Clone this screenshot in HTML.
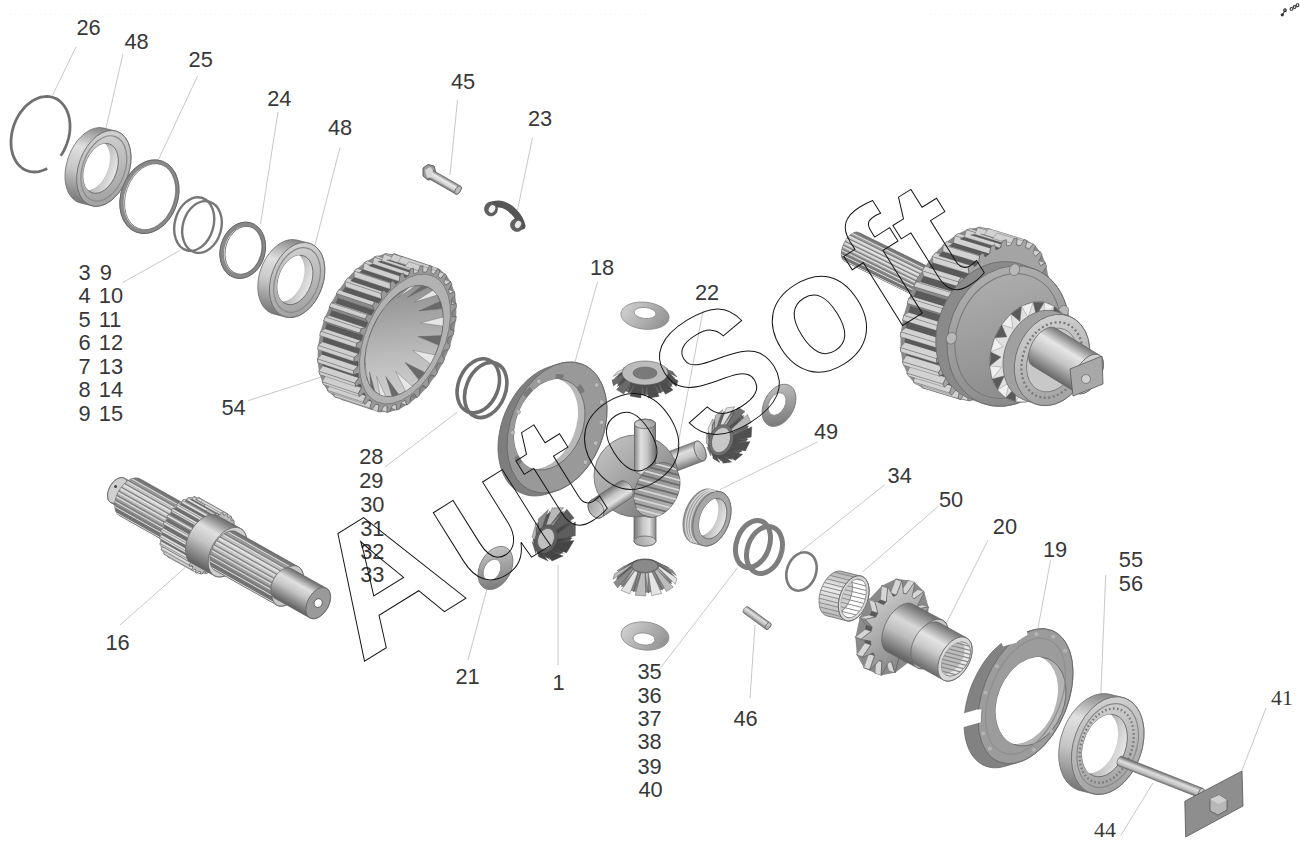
<!DOCTYPE html>
<html><head><meta charset="utf-8"><style>
html,body{margin:0;padding:0;background:#fff;width:1300px;height:851px;overflow:hidden}
svg{display:block}
text{font-family:"Liberation Sans",sans-serif}
</style></head><body>
<svg width="1300" height="851" viewBox="0 0 1300 851">
<defs><linearGradient id="g1" gradientUnits="userSpaceOnUse" x1="113.3" y1="130.3" x2="94.3" y2="206.5"><stop offset="0" stop-color="#858585"/><stop offset="0.3" stop-color="#e0e0e0"/><stop offset="0.6" stop-color="#c6c6c6"/><stop offset="1" stop-color="#767676"/></linearGradient><linearGradient id="g2" gradientUnits="userSpaceOnUse" x1="78.7" y1="129.1" x2="129.0" y2="207.7"><stop offset="0" stop-color="#d8d8d8"/><stop offset="1" stop-color="#9a9a9a"/></linearGradient><clipPath id="g3"><ellipse cx="100.8" cy="168.4" rx="16.1" ry="25.9" transform="rotate(20.0 100.8 168.4)"/></clipPath><linearGradient id="g4" gradientUnits="userSpaceOnUse" x1="84.7" y1="168.4" x2="116.9" y2="168.4"><stop offset="0" stop-color="#5a5a5a"/><stop offset="0.5" stop-color="#bdbdbd"/><stop offset="1" stop-color="#e8e8e8"/></linearGradient><linearGradient id="g5" gradientUnits="userSpaceOnUse" x1="306.5" y1="242.4" x2="287.7" y2="317.6"><stop offset="0" stop-color="#858585"/><stop offset="0.3" stop-color="#e0e0e0"/><stop offset="0.6" stop-color="#c6c6c6"/><stop offset="1" stop-color="#767676"/></linearGradient><linearGradient id="g6" gradientUnits="userSpaceOnUse" x1="271.3" y1="241.2" x2="323.0" y2="318.8"><stop offset="0" stop-color="#d8d8d8"/><stop offset="1" stop-color="#9a9a9a"/></linearGradient><clipPath id="g7"><ellipse cx="295.1" cy="280.0" rx="16.5" ry="25.6" transform="rotate(20.0 295.1 280.0)"/></clipPath><linearGradient id="g8" gradientUnits="userSpaceOnUse" x1="278.6" y1="280.0" x2="311.7" y2="280.0"><stop offset="0" stop-color="#5a5a5a"/><stop offset="0.5" stop-color="#bdbdbd"/><stop offset="1" stop-color="#e8e8e8"/></linearGradient><clipPath id="g9"><ellipse cx="404.0" cy="341.0" rx="34.1" ry="59.0" transform="rotate(24 404.0 341.0)"/></clipPath><linearGradient id="g10" gradientUnits="userSpaceOnUse" x1="363.4" y1="269.9" x2="444.6" y2="412.1"><stop offset="0" stop-color="#808080"/><stop offset="0.6" stop-color="#bdbdbd"/><stop offset="1" stop-color="#dadada"/></linearGradient><linearGradient id="g11" gradientUnits="userSpaceOnUse" x1="460.3" y1="186.0" x2="455.7" y2="194.0"><stop offset="0" stop-color="#777"/><stop offset="0.35" stop-color="#ececec"/><stop offset="0.7" stop-color="#d0d0d0"/><stop offset="1" stop-color="#666"/></linearGradient><clipPath id="g12"><ellipse cx="549.5" cy="424.5" rx="33.2" ry="47.2" transform="rotate(22 549.5 424.5)"/></clipPath><linearGradient id="g13" gradientUnits="userSpaceOnUse" x1="621.0" y1="302.0" x2="669.0" y2="330.0"><stop offset="0" stop-color="#d6d6d6"/><stop offset="1" stop-color="#8a8a8a"/></linearGradient><linearGradient id="g14" gradientUnits="userSpaceOnUse" x1="634.5" y1="424.0" x2="655.5" y2="424.0"><stop offset="0" stop-color="#858585"/><stop offset="0.3" stop-color="#e0e0e0"/><stop offset="0.6" stop-color="#c6c6c6"/><stop offset="1" stop-color="#767676"/></linearGradient><linearGradient id="g15" gradientUnits="userSpaceOnUse" x1="640.3" y1="413.5" x2="649.7" y2="434.5"><stop offset="0" stop-color="#d8d8d8"/><stop offset="1" stop-color="#9a9a9a"/></linearGradient><linearGradient id="g16" gradientUnits="userSpaceOnUse" x1="696.3" y1="441.2" x2="703.7" y2="460.8"><stop offset="0" stop-color="#858585"/><stop offset="0.3" stop-color="#e0e0e0"/><stop offset="0.6" stop-color="#c6c6c6"/><stop offset="1" stop-color="#767676"/></linearGradient><linearGradient id="g17" gradientUnits="userSpaceOnUse" x1="694.8" y1="440.5" x2="705.2" y2="461.5"><stop offset="0" stop-color="#d8d8d8"/><stop offset="1" stop-color="#9a9a9a"/></linearGradient><linearGradient id="g18" gradientUnits="userSpaceOnUse" x1="656.0" y1="541.0" x2="634.0" y2="541.0"><stop offset="0" stop-color="#858585"/><stop offset="0.3" stop-color="#e0e0e0"/><stop offset="0.6" stop-color="#c6c6c6"/><stop offset="1" stop-color="#767676"/></linearGradient><linearGradient id="g19" gradientUnits="userSpaceOnUse" x1="640.0" y1="530.0" x2="650.0" y2="552.0"><stop offset="0" stop-color="#d8d8d8"/><stop offset="1" stop-color="#9a9a9a"/></linearGradient><linearGradient id="g20" gradientUnits="userSpaceOnUse" x1="600.0" y1="440.0" x2="670.0" y2="515.0"><stop offset="0" stop-color="#c4c4c4"/><stop offset="0.5" stop-color="#a0a0a0"/><stop offset="1" stop-color="#6e6e6e"/></linearGradient><linearGradient id="g21" gradientUnits="userSpaceOnUse" x1="634.5" y1="424.0" x2="655.5" y2="424.0"><stop offset="0" stop-color="#858585"/><stop offset="0.3" stop-color="#e0e0e0"/><stop offset="0.6" stop-color="#c6c6c6"/><stop offset="1" stop-color="#767676"/></linearGradient><linearGradient id="g22" gradientUnits="userSpaceOnUse" x1="640.3" y1="413.5" x2="649.7" y2="434.5"><stop offset="0" stop-color="#d8d8d8"/><stop offset="1" stop-color="#9a9a9a"/></linearGradient><linearGradient id="g23" gradientUnits="userSpaceOnUse" x1="640.0" y1="462.0" x2="680.0" y2="520.0"><stop offset="0" stop-color="#8a8a8a"/><stop offset="1" stop-color="#b8b8b8"/></linearGradient><clipPath id="g24"><ellipse cx="657" cy="490" rx="21" ry="29" transform="rotate(28 657 490)"/></clipPath><linearGradient id="g25" gradientUnits="userSpaceOnUse" x1="601.5" y1="517.4" x2="590.5" y2="500.6"><stop offset="0" stop-color="#858585"/><stop offset="0.3" stop-color="#e0e0e0"/><stop offset="0.6" stop-color="#c6c6c6"/><stop offset="1" stop-color="#767676"/></linearGradient><linearGradient id="g26" gradientUnits="userSpaceOnUse" x1="589.0" y1="499.0" x2="603.0" y2="519.0"><stop offset="0" stop-color="#d8d8d8"/><stop offset="1" stop-color="#9a9a9a"/></linearGradient><linearGradient id="g27" gradientUnits="userSpaceOnUse" x1="762.0" y1="384.0" x2="796.0" y2="427.0"><stop offset="0" stop-color="#c8c8c8"/><stop offset="1" stop-color="#6e6e6e"/></linearGradient><linearGradient id="g28" gradientUnits="userSpaceOnUse" x1="478.0" y1="546.0" x2="513.0" y2="590.0"><stop offset="0" stop-color="#d0d0d0"/><stop offset="1" stop-color="#6e6e6e"/></linearGradient><linearGradient id="g29" gradientUnits="userSpaceOnUse" x1="621.0" y1="622.0" x2="669.0" y2="650.0"><stop offset="0" stop-color="#d6d6d6"/><stop offset="1" stop-color="#8a8a8a"/></linearGradient><clipPath id="g30"><ellipse cx="712.9" cy="518.7" rx="12.7" ry="21.0" transform="rotate(20.0 712.9 518.7)"/></clipPath><linearGradient id="g31" gradientUnits="userSpaceOnUse" x1="700.2" y1="518.7" x2="725.5" y2="518.7"><stop offset="0" stop-color="#5a5a5a"/><stop offset="0.5" stop-color="#bdbdbd"/><stop offset="1" stop-color="#e8e8e8"/></linearGradient><linearGradient id="g32" gradientUnits="userSpaceOnUse" x1="859.4" y1="575.6" x2="848.0" y2="621.2"><stop offset="0" stop-color="#b0b0b0"/><stop offset="0.4" stop-color="#ececec"/><stop offset="1" stop-color="#b8b8b8"/></linearGradient><linearGradient id="g33" gradientUnits="userSpaceOnUse" x1="839.9" y1="574.9" x2="867.6" y2="621.9"><stop offset="0" stop-color="#d8d8d8"/><stop offset="1" stop-color="#9a9a9a"/></linearGradient><clipPath id="g34"><polygon points="819.0,600.5 819.1,598.6 819.3,596.7 819.6,594.7 820.1,592.8 820.6,590.8 821.3,588.8 822.0,586.9 822.9,585.1 823.8,583.3 824.8,581.6 825.9,580.0 827.0,578.4 828.2,577.0 829.5,575.8 830.8,574.6 832.1,573.6 833.4,572.8 834.8,572.1 836.1,571.6 837.4,571.2 838.7,571.0 840.0,571.0 841.2,571.2 860.6,576.0 861.7,576.3 862.8,576.8 863.9,577.5 864.8,578.3 865.7,579.3 866.5,580.4 867.2,581.7 867.8,583.0 868.2,584.5 868.6,586.2 868.8,587.9 869.0,589.6 869.0,591.5 868.9,593.4 868.7,595.3 868.4,597.3 867.9,599.2 867.4,601.2 866.7,603.2 866.0,605.1 865.1,606.9 864.2,608.7 863.2,610.4 862.1,612.0 861.0,613.6 859.8,615.0 858.5,616.2 857.2,617.4 855.9,618.4 854.6,619.2 853.2,619.9 851.9,620.4 850.6,620.8 849.3,621.0 848.0,621.0 846.8,620.8 827.4,616.0 826.3,615.7 825.2,615.2 824.1,614.5 823.2,613.7 822.3,612.7 821.5,611.6 820.8,610.3 820.2,609.0 819.8,607.5 819.4,605.8 819.2,604.1 819.0,602.4"/></clipPath><clipPath id="g35"><ellipse cx="853.7" cy="598.4" rx="11.4" ry="20.2" transform="rotate(20 853.7 598.4)"/></clipPath><linearGradient id="g36" gradientUnits="userSpaceOnUse" x1="770.2" y1="622.9" x2="765.8" y2="629.1"><stop offset="0" stop-color="#858585"/><stop offset="0.3" stop-color="#e0e0e0"/><stop offset="0.6" stop-color="#c6c6c6"/><stop offset="1" stop-color="#767676"/></linearGradient><linearGradient id="g37" gradientUnits="userSpaceOnUse" x1="765.7" y1="622.2" x2="770.3" y2="629.8"><stop offset="0" stop-color="#d8d8d8"/><stop offset="1" stop-color="#9a9a9a"/></linearGradient><linearGradient id="g38" gradientUnits="userSpaceOnUse" x1="870.0" y1="590.0" x2="925.0" y2="665.0"><stop offset="0" stop-color="#d4d4d4"/><stop offset="1" stop-color="#7a7a7a"/></linearGradient><linearGradient id="g39" gradientUnits="userSpaceOnUse" x1="942.7" y1="620.2" x2="917.3" y2="667.8"><stop offset="0" stop-color="#6a6a6a"/><stop offset="0.35" stop-color="#d8d8d8"/><stop offset="0.6" stop-color="#bdbdbd"/><stop offset="1" stop-color="#5e5e5e"/></linearGradient><linearGradient id="g40" gradientUnits="userSpaceOnUse" x1="966.7" y1="638.0" x2="943.3" y2="680.0"><stop offset="0" stop-color="#707070"/><stop offset="0.35" stop-color="#e4e4e4"/><stop offset="0.6" stop-color="#c8c8c8"/><stop offset="1" stop-color="#6a6a6a"/></linearGradient><clipPath id="g41"><ellipse cx="956" cy="659" rx="12" ry="19" transform="rotate(34 956 659)"/></clipPath><clipPath id="g42"><ellipse cx="1030.8" cy="701.5" rx="33.1" ry="46.1" transform="rotate(22 1030.8 701.5)"/></clipPath><linearGradient id="g43" gradientUnits="userSpaceOnUse" x1="1119.9" y1="696.6" x2="1095.4" y2="794.5"><stop offset="0" stop-color="#858585"/><stop offset="0.3" stop-color="#e0e0e0"/><stop offset="0.6" stop-color="#c6c6c6"/><stop offset="1" stop-color="#767676"/></linearGradient><linearGradient id="g44" gradientUnits="userSpaceOnUse" x1="1073.6" y1="695.1" x2="1141.7" y2="796.0"><stop offset="0" stop-color="#d8d8d8"/><stop offset="1" stop-color="#9a9a9a"/></linearGradient><clipPath id="g45"><ellipse cx="1104.7" cy="745.6" rx="21.1" ry="32.3" transform="rotate(20.0 1104.7 745.6)"/></clipPath><linearGradient id="g46" gradientUnits="userSpaceOnUse" x1="1083.6" y1="745.6" x2="1125.8" y2="745.6"><stop offset="0" stop-color="#5a5a5a"/><stop offset="0.5" stop-color="#bdbdbd"/><stop offset="1" stop-color="#e8e8e8"/></linearGradient><linearGradient id="g47" gradientUnits="userSpaceOnUse" x1="1202.8" y1="788.3" x2="1199.2" y2="797.7"><stop offset="0" stop-color="#777"/><stop offset="0.35" stop-color="#dedede"/><stop offset="0.7" stop-color="#c0c0c0"/><stop offset="1" stop-color="#666"/></linearGradient><linearGradient id="g48" gradientUnits="userSpaceOnUse" x1="1198.5" y1="788.0" x2="1203.5" y2="798.0"><stop offset="0" stop-color="#d8d8d8"/><stop offset="1" stop-color="#9a9a9a"/></linearGradient><linearGradient id="g49" gradientUnits="userSpaceOnUse" x1="143.6" y1="489.0" x2="129.9" y2="513.4"><stop offset="0" stop-color="#858585"/><stop offset="0.3" stop-color="#e0e0e0"/><stop offset="0.6" stop-color="#c6c6c6"/><stop offset="1" stop-color="#767676"/></linearGradient><linearGradient id="g50" gradientUnits="userSpaceOnUse" x1="202.0" y1="513.7" x2="181.4" y2="550.4"><stop offset="0" stop-color="#6a6a6a"/><stop offset="0.3" stop-color="#d6d6d6"/><stop offset="0.55" stop-color="#bcbcbc"/><stop offset="1" stop-color="#5e5e5e"/></linearGradient><clipPath id="g51"><polygon points="114.8,505.8 114.8,504.3 114.9,502.7 115.2,501.1 115.5,499.4 116.0,497.7 116.5,496.0 117.2,494.4 118.0,492.7 118.8,491.1 119.8,489.5 120.8,488.0 121.9,486.6 123.0,485.2 124.2,483.9 125.4,482.8 126.7,481.7 128.0,480.8 129.3,479.9 130.6,479.3 131.9,478.7 133.2,478.3 134.5,478.1 135.7,477.9 136.9,478.0 138.0,478.2 139.1,478.5 140.1,478.9 202.0,513.7 202.9,514.4 203.8,515.1 204.5,516.0 205.1,517.0 205.7,518.1 206.1,519.3 206.4,520.6 206.7,522.0 206.8,523.5 206.8,525.0 206.6,526.6 206.4,528.2 206.0,529.9 205.6,531.6 205.0,533.3 204.3,535.0 203.6,536.6 202.7,538.2 201.8,539.8 200.8,541.3 199.7,542.8 198.5,544.1 197.3,545.4 196.1,546.5 194.8,547.6 193.5,548.5 192.2,549.4 190.9,550.0 189.6,550.6 188.3,551.0 187.0,551.2 185.8,551.4 184.6,551.3 183.5,551.1 182.4,550.8 181.4,550.4 119.5,515.6 118.6,515.0 117.8,514.2 117.0,513.4 116.4,512.4 115.8,511.2 115.4,510.0 115.1,508.7 114.9,507.3"/></clipPath><linearGradient id="g52" gradientUnits="userSpaceOnUse" x1="240.7" y1="528.6" x2="214.2" y2="575.7"><stop offset="0" stop-color="#6a6a6a"/><stop offset="0.3" stop-color="#e0e0e0"/><stop offset="0.55" stop-color="#c4c4c4"/><stop offset="1" stop-color="#5e5e5e"/></linearGradient><linearGradient id="g53" gradientUnits="userSpaceOnUse" x1="298.4" y1="566.8" x2="276.9" y2="605.1"><stop offset="0" stop-color="#6a6a6a"/><stop offset="0.3" stop-color="#d6d6d6"/><stop offset="0.55" stop-color="#bcbcbc"/><stop offset="1" stop-color="#5e5e5e"/></linearGradient><clipPath id="g54"><polygon points="210.0,560.1 210.0,558.5 210.1,556.9 210.4,555.1 210.7,553.4 211.2,551.6 211.8,549.9 212.5,548.1 213.3,546.4 214.2,544.7 215.2,543.0 216.3,541.5 217.4,540.0 218.6,538.5 219.8,537.2 221.2,536.0 222.5,534.9 223.8,533.9 225.2,533.0 226.6,532.3 228.0,531.7 229.3,531.3 230.6,531.0 231.9,530.9 233.2,531.0 234.3,531.1 235.5,531.5 236.5,532.0 298.4,566.8 299.4,567.4 300.2,568.2 301.0,569.1 301.7,570.1 302.3,571.3 302.7,572.6 303.1,574.0 303.3,575.4 303.4,577.0 303.4,578.6 303.2,580.2 303.0,582.0 302.6,583.7 302.1,585.5 301.5,587.2 300.8,589.0 300.0,590.7 299.1,592.4 298.2,594.1 297.1,595.6 296.0,597.2 294.8,598.6 293.5,599.9 292.2,601.1 290.9,602.2 289.5,603.2 288.2,604.1 286.8,604.8 285.4,605.4 284.1,605.8 282.7,606.1 281.4,606.2 280.2,606.1 279.0,606.0 277.9,605.6 276.9,605.1 214.9,570.3 214.0,569.7 213.1,568.9 212.3,568.0 211.7,567.0 211.1,565.8 210.6,564.5 210.3,563.2 210.1,561.7"/></clipPath><linearGradient id="g55" gradientUnits="userSpaceOnUse" x1="326.5" y1="588.3" x2="309.8" y2="617.9"><stop offset="0" stop-color="#6a6a6a"/><stop offset="0.3" stop-color="#e0e0e0"/><stop offset="0.55" stop-color="#c4c4c4"/><stop offset="1" stop-color="#5e5e5e"/></linearGradient><linearGradient id="g56" gradientUnits="userSpaceOnUse" x1="932.1" y1="268.7" x2="917.9" y2="297.3"><stop offset="0" stop-color="#6a6a6a"/><stop offset="0.3" stop-color="#d6d6d6"/><stop offset="0.55" stop-color="#bcbcbc"/><stop offset="1" stop-color="#5e5e5e"/></linearGradient><clipPath id="g57"><polygon points="841.4,253.2 841.5,252.0 841.6,250.8 841.9,249.5 842.2,248.2 842.5,246.9 843.0,245.7 843.5,244.4 844.1,243.1 844.8,241.9 845.5,240.7 846.2,239.5 847.0,238.4 847.8,237.4 848.7,236.4 849.6,235.6 850.5,234.8 851.4,234.1 852.4,233.5 853.3,233.0 854.2,232.6 855.1,232.3 856.0,232.2 856.8,232.1 857.6,232.2 858.4,232.4 859.1,232.7 932.1,268.6 932.7,269.0 933.3,269.5 933.9,270.1 934.4,270.9 934.8,271.6 935.1,272.5 935.3,273.5 935.5,274.5 935.6,275.6 935.6,276.8 935.5,278.0 935.4,279.2 935.1,280.5 934.8,281.8 934.5,283.1 934.0,284.3 933.5,285.6 932.9,286.9 932.2,288.1 931.5,289.3 930.8,290.5 930.0,291.6 929.2,292.6 928.3,293.6 927.4,294.4 926.5,295.2 925.6,295.9 924.6,296.5 923.7,297.0 922.8,297.4 921.9,297.6 921.0,297.8 920.2,297.9 919.4,297.8 918.6,297.6 917.9,297.4 844.9,261.4 844.3,261.0 843.7,260.5 843.1,259.9 842.6,259.1 842.2,258.4 841.9,257.5 841.7,256.5 841.5,255.5 841.4,254.4"/></clipPath><linearGradient id="g58" gradientUnits="userSpaceOnUse" x1="950.0" y1="265.0" x2="1066.0" y2="407.0"><stop offset="0" stop-color="#b4b4b4"/><stop offset="1" stop-color="#848484"/></linearGradient><linearGradient id="g59" gradientUnits="userSpaceOnUse" x1="1016.0" y1="313.0" x2="1088.0" y2="407.0"><stop offset="0" stop-color="#d8d8d8"/><stop offset="1" stop-color="#9a9a9a"/></linearGradient><linearGradient id="g60" gradientUnits="userSpaceOnUse" x1="1099.5" y1="355.2" x2="1076.5" y2="392.8"><stop offset="0" stop-color="#777"/><stop offset="0.3" stop-color="#e6e6e6"/><stop offset="0.6" stop-color="#c4c4c4"/><stop offset="1" stop-color="#666"/></linearGradient></defs>
<rect width="1300" height="851" fill="#fff"/>
<line x1="76.0" y1="47.0" x2="52.4" y2="95.5" stroke="#bababa" stroke-width="0.8"/>
<line x1="123.0" y1="53.7" x2="106.0" y2="128.0" stroke="#bababa" stroke-width="0.8"/>
<line x1="197.6" y1="76.0" x2="158.4" y2="159.7" stroke="#bababa" stroke-width="0.8"/>
<line x1="278.0" y1="112.0" x2="260.5" y2="224.0" stroke="#bababa" stroke-width="0.8"/>
<line x1="340.0" y1="147.5" x2="315.0" y2="245.0" stroke="#bababa" stroke-width="0.8"/>
<line x1="457.5" y1="100.0" x2="450.0" y2="175.0" stroke="#bababa" stroke-width="0.8"/>
<line x1="532.5" y1="137.5" x2="517.5" y2="210.0" stroke="#bababa" stroke-width="0.8"/>
<line x1="122.6" y1="282.6" x2="180.4" y2="250.2" stroke="#bababa" stroke-width="0.8"/>
<line x1="248.0" y1="400.7" x2="321.4" y2="377.0" stroke="#bababa" stroke-width="0.8"/>
<line x1="597.5" y1="282.0" x2="575.0" y2="362.0" stroke="#bababa" stroke-width="0.8"/>
<line x1="703.0" y1="310.6" x2="677.5" y2="447.0" stroke="#bababa" stroke-width="0.8"/>
<line x1="385.0" y1="467.0" x2="457.5" y2="412.0" stroke="#bababa" stroke-width="0.8"/>
<line x1="817.5" y1="442.0" x2="720.0" y2="489.5" stroke="#bababa" stroke-width="0.8"/>
<line x1="885.0" y1="484.5" x2="800.0" y2="552.0" stroke="#bababa" stroke-width="0.8"/>
<line x1="937.5" y1="507.0" x2="862.5" y2="572.0" stroke="#bababa" stroke-width="0.8"/>
<line x1="468.0" y1="660.0" x2="488.0" y2="585.0" stroke="#bababa" stroke-width="0.8"/>
<line x1="558.0" y1="665.0" x2="558.0" y2="565.0" stroke="#bababa" stroke-width="0.8"/>
<line x1="120.0" y1="625.0" x2="185.0" y2="567.7" stroke="#bababa" stroke-width="0.8"/>
<line x1="655.0" y1="675.0" x2="737.6" y2="567.7" stroke="#bababa" stroke-width="0.8"/>
<line x1="750.0" y1="698.0" x2="755.0" y2="625.0" stroke="#bababa" stroke-width="0.8"/>
<line x1="988.0" y1="540.0" x2="945.5" y2="625.0" stroke="#bababa" stroke-width="0.8"/>
<line x1="1050.6" y1="560.0" x2="1038.0" y2="628.0" stroke="#bababa" stroke-width="0.8"/>
<line x1="1105.7" y1="575.0" x2="1100.7" y2="698.0" stroke="#bababa" stroke-width="0.8"/>
<line x1="1266.0" y1="708.0" x2="1241.0" y2="773.0" stroke="#bababa" stroke-width="0.8"/>
<line x1="1120.7" y1="835.6" x2="1153.0" y2="783.0" stroke="#bababa" stroke-width="0.8"/>
<line x1="5" y1="14.5" x2="650" y2="14.5" stroke="#efefef" stroke-width="1" stroke-dasharray="1 4"/>
<line x1="930" y1="14.5" x2="1285" y2="14.5" stroke="#efefef" stroke-width="1" stroke-dasharray="1 4"/>
<polyline points="47.2,168.4 45.2,169.5 43.1,170.3 40.9,171.0 38.8,171.6 36.7,171.9 34.6,172.0 32.5,171.9 30.5,171.7 28.5,171.2 26.6,170.5 24.8,169.7 23.0,168.7 21.4,167.5 19.8,166.1 18.4,164.6 17.0,162.9 15.8,161.0 14.7,159.0 13.7,156.9 12.9,154.7 12.2,152.4 11.7,149.9 11.3,147.4 11.1,144.8 11.0,142.2 11.1,139.5 11.3,136.8 11.7,134.1 12.2,131.4 12.9,128.7 13.7,126.0 14.6,123.4 15.7,120.8 16.9,118.3 18.3,115.9 19.7,113.6 21.3,111.4 23.0,109.3 24.7,107.3 26.5,105.5 28.5,103.8 30.4,102.3 32.4,100.9 34.5,99.7 36.6,98.7 38.7,97.9 40.8,97.2 43.0,96.8 45.1,96.6 47.1,96.5 49.2,96.6 51.2,97.0 53.2,97.5 55.0,98.2 56.8,99.1 58.6,100.2 60.2,101.5 61.7,102.9 63.1,104.5 64.4,106.3 65.6,108.2 66.7,110.2 67.6,112.4 68.4,114.6 69.0,117.0 69.5,119.5 69.8,122.0 70.0,124.6 70.0,127.3 69.9,130.0 69.6,132.7 69.2,135.4 68.6,138.1 67.8,140.8 67.0,143.4 66.0,146.0 64.8,148.6 63.6,151.1 62.2,153.5 60.7,155.7" fill="none" stroke="#707070" stroke-width="2.8"/>
<polygon points="65.0,176.5 65.1,173.3 65.4,170.0 65.9,166.8 66.6,163.4 67.5,160.2 68.5,156.9 69.8,153.7 71.2,150.6 72.8,147.6 74.6,144.8 76.4,142.1 78.4,139.6 80.5,137.3 82.7,135.2 85.0,133.3 87.3,131.7 89.6,130.3 92.0,129.2 94.4,128.4 96.7,127.9 99.0,127.6 101.3,127.7 103.5,128.0 115.2,130.9 117.3,131.5 119.3,132.4 121.2,133.6 122.9,135.0 124.5,136.7 126.0,138.6 127.3,140.7 128.4,143.1 129.3,145.7 130.0,148.4 130.6,151.3 130.9,154.3 131.0,157.4 130.9,160.6 130.6,163.9 130.1,167.2 129.4,170.5 128.5,173.8 127.5,177.0 126.2,180.2 124.8,183.3 123.2,186.3 121.4,189.1 119.6,191.8 117.6,194.3 115.5,196.6 113.3,198.7 111.0,200.6 108.7,202.2 106.4,203.6 104.0,204.7 101.6,205.5 99.3,206.0 97.0,206.3 94.7,206.2 92.5,205.9 80.8,203.0 78.7,202.4 76.7,201.5 74.8,200.3 73.1,198.9 71.5,197.2 70.0,195.3 68.7,193.2 67.6,190.8 66.7,188.2 66.0,185.5 65.4,182.6 65.1,179.6" fill="url(#g1)" stroke="#6a6a6a" stroke-width="0.8"/>
<ellipse cx="103.8" cy="168.4" rx="25.1" ry="39.3" transform="rotate(20.0 103.8 168.4)" fill="url(#g2)" stroke="#6a6a6a" stroke-width="0.8" />
<ellipse cx="103.8" cy="168.4" rx="21.1" ry="33.8" transform="rotate(20.0 103.8 168.4)" fill="none" stroke="#8a8a8a" stroke-width="1.2" />
<ellipse cx="100.8" cy="168.4" rx="16.1" ry="25.9" transform="rotate(20.0 100.8 168.4)" fill="url(#g4)" stroke="#666" stroke-width="0.8" />
<g clip-path="url(#g3)"><ellipse cx="92.4" cy="165.3" rx="16.1" ry="25.9" transform="rotate(20.0 92.4 165.3)" fill="#fff"/></g>
<ellipse cx="149.4" cy="196.7" rx="26.6" ry="36.0" transform="rotate(20.0 149.4 196.7)" fill="none" stroke="#8a8a8a" stroke-width="4.2" />
<ellipse cx="149.4" cy="196.7" rx="28.4" ry="37.8" transform="rotate(20.0 149.4 196.7)" fill="none" stroke="#666" stroke-width="0.9" />
<ellipse cx="150.4" cy="196.7" rx="24.6" ry="34.0" transform="rotate(20.0 150.4 196.7)" fill="none" stroke="#777" stroke-width="0.8" />
<ellipse cx="194.2" cy="224.0" rx="19.3" ry="27.3" transform="rotate(16.0 194.2 224.0)" fill="none" stroke="#777" stroke-width="2.4" />
<ellipse cx="202.0" cy="227.0" rx="19.2" ry="26.3" transform="rotate(16.0 202.0 227.0)" fill="none" stroke="#777" stroke-width="2.4" />
<ellipse cx="242.7" cy="250.3" rx="20.4" ry="26.6" transform="rotate(16.0 242.7 250.3)" fill="none" stroke="#888" stroke-width="4.4" />
<ellipse cx="242.7" cy="250.3" rx="22.4" ry="28.6" transform="rotate(16.0 242.7 250.3)" fill="none" stroke="#666" stroke-width="0.9" />
<ellipse cx="243.7" cy="250.3" rx="18.2" ry="24.4" transform="rotate(16.0 243.7 250.3)" fill="none" stroke="#707070" stroke-width="0.9" />
<polygon points="257.8,287.7 257.9,284.5 258.1,281.2 258.6,278.0 259.2,274.7 260.1,271.5 261.2,268.3 262.4,265.1 263.9,262.1 265.4,259.1 267.2,256.3 269.1,253.7 271.1,251.2 273.2,248.9 275.4,246.9 277.7,245.1 280.0,243.5 282.4,242.2 284.8,241.1 287.2,240.3 289.6,239.8 292.0,239.6 294.3,239.7 296.6,240.0 308.2,242.9 310.4,243.6 312.4,244.5 314.4,245.7 316.2,247.1 317.9,248.8 319.4,250.7 320.8,252.9 321.9,255.2 322.9,257.8 323.7,260.5 324.3,263.4 324.6,266.3 324.8,269.4 324.7,272.6 324.5,275.9 324.0,279.1 323.4,282.4 322.5,285.6 321.4,288.8 320.2,292.0 318.7,295.0 317.1,298.0 315.4,300.8 313.5,303.4 311.5,305.9 309.4,308.1 307.2,310.2 304.9,312.0 302.6,313.6 300.2,314.9 297.8,316.0 295.4,316.8 293.0,317.3 290.6,317.5 288.3,317.4 286.0,317.1 274.4,314.2 272.2,313.5 270.1,312.6 268.2,311.4 266.4,310.0 264.7,308.3 263.2,306.4 261.9,304.2 260.7,301.9 259.7,299.3 258.9,296.6 258.3,293.8 258.0,290.8" fill="url(#g5)" stroke="#6a6a6a" stroke-width="0.8"/>
<ellipse cx="297.1" cy="280.0" rx="25.9" ry="38.8" transform="rotate(20.0 297.1 280.0)" fill="url(#g6)" stroke="#6a6a6a" stroke-width="0.8" />
<ellipse cx="297.1" cy="280.0" rx="21.7" ry="33.4" transform="rotate(20.0 297.1 280.0)" fill="none" stroke="#8a8a8a" stroke-width="1.2" />
<ellipse cx="295.1" cy="280.0" rx="16.5" ry="25.6" transform="rotate(20.0 295.1 280.0)" fill="url(#g8)" stroke="#666" stroke-width="0.8" />
<g clip-path="url(#g7)"><ellipse cx="286.7" cy="276.9" rx="16.5" ry="25.6" transform="rotate(20.0 286.7 276.9)" fill="#fff"/></g>
<polygon points="406.1,343.5 408.6,347.2 406.6,351.3 402.4,351.0 399.7,355.8 401.5,360.5 399.1,364.3 395.3,362.8 392.2,367.1 393.0,372.6 390.3,375.9 387.2,373.1 383.7,376.8 383.7,382.9 380.8,385.6 378.4,381.7 374.8,384.6 373.8,391.1 370.8,393.1 369.2,388.2 365.5,390.2 363.7,396.9 360.7,398.0 360.1,392.3 356.5,393.3 353.8,399.9 351.0,400.3 351.2,394.0 347.9,393.9 344.5,400.1 341.9,399.6 343.1,393.0 340.1,391.9 336.2,397.5 333.9,396.2 335.9,389.5 333.4,387.5 329.1,392.3 327.2,390.2 330.1,383.7 328.1,380.7 323.5,384.5 322.2,381.7 325.7,375.6 324.4,371.8 319.7,374.5 318.9,371.1 322.9,365.7 322.4,361.3 317.8,362.6 317.6,358.8 322.0,354.2 322.1,349.4 317.8,349.4 318.2,345.3 322.9,341.8 323.7,336.6 319.8,335.4 320.8,331.1 325.5,328.7 327.0,323.5 323.7,321.0 325.2,316.7 329.8,315.6 331.9,310.5 329.4,306.8 331.4,302.7 335.6,303.0 338.3,298.2 336.5,293.5 338.9,289.7 342.7,291.2 345.8,286.9 345.0,281.4 347.7,278.1 350.8,280.9 354.3,277.2 354.3,271.1 357.2,268.4 359.6,272.3 363.2,269.4 364.2,262.9 367.2,260.9 368.8,265.8 372.5,263.8 374.3,257.1 377.3,256.0 377.9,261.7 381.5,260.7 384.2,254.1 387.0,253.7 386.8,260.0 390.1,260.1 393.5,253.9 396.1,254.4 394.9,261.0 397.9,262.1 401.8,256.5 404.1,257.8 402.1,264.5 404.6,266.5 408.9,261.7 410.8,263.8 407.9,270.3 409.9,273.3 414.5,269.5 415.8,272.3 412.3,278.4 413.6,282.2 418.3,279.5 419.1,282.9 415.1,288.3 415.6,292.7 420.2,291.4 420.4,295.2 416.0,299.8 415.9,304.6 420.2,304.6 419.8,308.7 415.1,312.2 414.3,317.4 418.2,318.6 417.2,322.9 412.5,325.3 411.0,330.5 414.3,333.0 412.8,337.3 408.2,338.4" fill="#5a5a5a" stroke="#555" stroke-width="0.6"/>
<polygon points="317.6,358.8 317.8,349.4 318.2,345.3 319.8,335.4 320.8,331.1 323.7,321.0 325.2,316.7 329.4,306.9 331.4,302.7 336.5,293.5 338.9,289.7 345.0,281.4 347.7,278.1 354.3,271.1 357.2,268.4 364.2,262.9 367.2,260.9 374.3,257.1 377.3,255.9 384.2,254.1 387.0,253.8 393.5,253.9 396.1,254.4 432.1,266.4 437.8,268.5 440.1,269.8 444.9,273.7 446.8,275.8 450.5,281.5 451.8,284.3 454.3,291.5 455.1,294.9 456.2,303.4 456.4,307.2 456.2,316.6 455.8,320.7 454.2,330.6 453.2,334.9 450.3,345.0 448.8,349.3 444.6,359.1 442.6,363.3 437.5,372.5 435.1,376.3 429.0,384.6 426.3,387.9 419.7,394.9 416.8,397.6 409.8,403.1 406.8,405.1 399.7,408.9 396.7,410.1 389.8,411.9 387.0,412.2 380.5,412.1 377.9,411.6 341.9,399.6 336.2,397.5 333.9,396.2 329.1,392.3 327.2,390.2 323.5,384.5 322.2,381.7 319.7,374.5 318.9,371.1 317.8,362.6" fill="#8a8a8a" stroke="none"/>
<polygon points="435.1,376.3 431.3,374.8 395.3,362.8 399.1,364.3" fill="#5a5a5a" stroke="#555" stroke-width="0.35"/><polygon points="426.3,387.9 423.2,385.1 387.2,373.1 390.3,375.9" fill="#8a8a8a" stroke="#555" stroke-width="0.35"/><polygon points="416.8,397.6 414.4,393.7 378.4,381.7 380.8,385.6" fill="#8a8a8a" stroke="#555" stroke-width="0.35"/><polygon points="406.8,405.1 405.2,400.2 369.2,388.2 370.8,393.1" fill="#cfcfcf" stroke="#555" stroke-width="0.35"/><polygon points="396.7,410.0 396.1,404.3 360.1,392.3 360.7,398.0" fill="#cfcfcf" stroke="#555" stroke-width="0.35"/><polygon points="387.0,412.3 387.2,406.0 351.2,394.0 351.0,400.3" fill="#cfcfcf" stroke="#555" stroke-width="0.35"/><polygon points="377.9,411.6 379.1,405.0 343.1,393.0 341.9,399.6" fill="#cfcfcf" stroke="#555" stroke-width="0.35"/><polygon points="379.1,405.0 376.1,403.9 340.1,391.9 343.1,393.0" fill="#5a5a5a" stroke="#555" stroke-width="0.35"/><polygon points="372.2,409.5 369.9,408.2 333.9,396.2 336.2,397.5" fill="#cfcfcf" stroke="#555" stroke-width="0.35"/><polygon points="369.9,408.2 371.9,401.5 335.9,389.5 333.9,396.2" fill="#cfcfcf" stroke="#555" stroke-width="0.35"/><polygon points="371.9,401.5 369.4,399.5 333.4,387.5 335.9,389.5" fill="#5a5a5a" stroke="#555" stroke-width="0.35"/><polygon points="365.1,404.3 363.2,402.2 327.2,390.2 329.1,392.3" fill="#cfcfcf" stroke="#555" stroke-width="0.35"/><polygon points="363.2,402.2 366.1,395.7 330.1,383.7 327.2,390.2" fill="#cfcfcf" stroke="#555" stroke-width="0.35"/><polygon points="366.1,395.7 364.1,392.7 328.1,380.7 330.1,383.7" fill="#5a5a5a" stroke="#555" stroke-width="0.35"/><polygon points="359.5,396.5 358.2,393.7 322.2,381.7 323.5,384.5" fill="#cfcfcf" stroke="#555" stroke-width="0.35"/><polygon points="358.2,393.7 361.7,387.6 325.7,375.6 322.2,381.7" fill="#cfcfcf" stroke="#555" stroke-width="0.35"/><polygon points="361.7,387.6 360.4,383.8 324.4,371.8 325.7,375.6" fill="#5a5a5a" stroke="#555" stroke-width="0.35"/><polygon points="355.7,386.5 354.9,383.1 318.9,371.1 319.7,374.5" fill="#cfcfcf" stroke="#555" stroke-width="0.35"/><polygon points="354.9,383.1 358.9,377.7 322.9,365.7 318.9,371.1" fill="#cfcfcf" stroke="#555" stroke-width="0.35"/><polygon points="358.9,377.7 358.4,373.3 322.4,361.3 322.9,365.7" fill="#5a5a5a" stroke="#555" stroke-width="0.35"/><polygon points="353.8,374.6 353.6,370.8 317.6,358.8 317.8,362.6" fill="#cfcfcf" stroke="#555" stroke-width="0.35"/><polygon points="353.6,370.8 358.0,366.2 322.0,354.2 317.6,358.8" fill="#cfcfcf" stroke="#555" stroke-width="0.35"/><polygon points="358.0,366.2 358.1,361.4 322.1,349.4 322.0,354.2" fill="#5a5a5a" stroke="#555" stroke-width="0.35"/><polygon points="353.8,361.4 354.2,357.3 318.2,345.3 317.8,349.4" fill="#cfcfcf" stroke="#555" stroke-width="0.35"/><polygon points="354.2,357.3 358.9,353.8 322.9,341.8 318.2,345.3" fill="#cfcfcf" stroke="#555" stroke-width="0.35"/><polygon points="358.9,353.8 359.7,348.6 323.7,336.6 322.9,341.8" fill="#5a5a5a" stroke="#555" stroke-width="0.35"/><polygon points="355.8,347.4 356.8,343.1 320.8,331.1 319.8,335.4" fill="#cfcfcf" stroke="#555" stroke-width="0.35"/><polygon points="356.8,343.1 361.5,340.7 325.5,328.7 320.8,331.1" fill="#cfcfcf" stroke="#555" stroke-width="0.35"/><polygon points="361.5,340.7 363.0,335.5 327.0,323.5 325.5,328.7" fill="#5a5a5a" stroke="#555" stroke-width="0.35"/><polygon points="363.0,335.5 359.7,333.0 323.7,321.0 327.0,323.5" fill="#8a8a8a" stroke="#555" stroke-width="0.35"/><polygon points="359.7,333.0 361.2,328.7 325.2,316.7 323.7,321.0" fill="#cfcfcf" stroke="#555" stroke-width="0.35"/><polygon points="361.2,328.7 365.8,327.6 329.8,315.6 325.2,316.7" fill="#cfcfcf" stroke="#555" stroke-width="0.35"/><polygon points="365.8,327.6 367.9,322.5 331.9,310.5 329.8,315.6" fill="#5a5a5a" stroke="#555" stroke-width="0.35"/><polygon points="367.9,322.5 365.4,318.8 329.4,306.8 331.9,310.5" fill="#8a8a8a" stroke="#555" stroke-width="0.35"/><polygon points="365.4,318.8 367.4,314.7 331.4,302.7 329.4,306.8" fill="#cfcfcf" stroke="#555" stroke-width="0.35"/><polygon points="367.4,314.7 371.6,315.0 335.6,303.0 331.4,302.7" fill="#cfcfcf" stroke="#555" stroke-width="0.35"/><polygon points="371.6,315.0 374.3,310.2 338.3,298.2 335.6,303.0" fill="#5a5a5a" stroke="#555" stroke-width="0.35"/><polygon points="374.3,310.2 372.5,305.5 336.5,293.5 338.3,298.2" fill="#8a8a8a" stroke="#555" stroke-width="0.35"/><polygon points="372.5,305.5 374.9,301.7 338.9,289.7 336.5,293.5" fill="#cfcfcf" stroke="#555" stroke-width="0.35"/><polygon points="378.7,303.2 381.8,298.9 345.8,286.9 342.7,291.2" fill="#5a5a5a" stroke="#555" stroke-width="0.35"/><polygon points="381.8,298.9 381.0,293.4 345.0,281.4 345.8,286.9" fill="#cfcfcf" stroke="#555" stroke-width="0.35"/><polygon points="381.0,293.4 383.7,290.1 347.7,278.1 345.0,281.4" fill="#cfcfcf" stroke="#555" stroke-width="0.35"/><polygon points="386.8,292.9 390.3,289.2 354.3,277.2 350.8,280.9" fill="#5a5a5a" stroke="#555" stroke-width="0.35"/><polygon points="390.3,289.2 390.3,283.1 354.3,271.1 354.3,277.2" fill="#cfcfcf" stroke="#555" stroke-width="0.35"/><polygon points="390.3,283.1 393.2,280.4 357.2,268.4 354.3,271.1" fill="#cfcfcf" stroke="#555" stroke-width="0.35"/><polygon points="395.6,284.3 399.2,281.4 363.2,269.4 359.6,272.3" fill="#5a5a5a" stroke="#555" stroke-width="0.35"/><polygon points="399.2,281.4 400.2,274.9 364.2,262.9 363.2,269.4" fill="#cfcfcf" stroke="#555" stroke-width="0.35"/><polygon points="400.2,274.9 403.2,272.9 367.2,260.9 364.2,262.9" fill="#cfcfcf" stroke="#555" stroke-width="0.35"/><polygon points="404.8,277.8 408.5,275.8 372.5,263.8 368.8,265.8" fill="#5a5a5a" stroke="#555" stroke-width="0.35"/><polygon points="408.5,275.8 410.3,269.1 374.3,257.1 372.5,263.8" fill="#cfcfcf" stroke="#555" stroke-width="0.35"/><polygon points="410.3,269.1 413.3,268.0 377.3,256.0 374.3,257.1" fill="#cfcfcf" stroke="#555" stroke-width="0.35"/><polygon points="413.9,273.7 417.5,272.7 381.5,260.7 377.9,261.7" fill="#5a5a5a" stroke="#555" stroke-width="0.35"/><polygon points="417.5,272.7 420.2,266.1 384.2,254.1 381.5,260.7" fill="#cfcfcf" stroke="#555" stroke-width="0.35"/><polygon points="420.2,266.1 423.0,265.7 387.0,253.7 384.2,254.1" fill="#cfcfcf" stroke="#555" stroke-width="0.35"/><polygon points="422.8,272.0 426.1,272.1 390.1,260.1 386.8,260.0" fill="#5a5a5a" stroke="#555" stroke-width="0.35"/><polygon points="426.1,272.1 429.5,265.9 393.5,253.9 390.1,260.1" fill="#cfcfcf" stroke="#555" stroke-width="0.35"/><polygon points="429.5,265.9 432.1,266.4 396.1,254.4 393.5,253.9" fill="#cfcfcf" stroke="#555" stroke-width="0.35"/><polygon points="433.9,274.1 437.8,268.5 401.8,256.5 397.9,262.1" fill="#cfcfcf" stroke="#555" stroke-width="0.35"/><polygon points="440.6,278.5 444.9,273.7 408.9,261.7 404.6,266.5" fill="#cfcfcf" stroke="#555" stroke-width="0.35"/><polygon points="445.9,285.3 450.5,281.5 414.5,269.5 409.9,273.3" fill="#cfcfcf" stroke="#555" stroke-width="0.35"/><polygon points="449.6,294.2 454.3,291.5 418.3,279.5 413.6,282.2" fill="#cfcfcf" stroke="#555" stroke-width="0.35"/><polygon points="451.6,304.7 456.2,303.4 420.2,291.4 415.6,292.7" fill="#cfcfcf" stroke="#555" stroke-width="0.35"/><polygon points="451.9,316.6 456.2,316.6 420.2,304.6 415.9,304.6" fill="#cfcfcf" stroke="#555" stroke-width="0.35"/><polygon points="450.3,329.4 454.2,330.6 418.2,318.6 414.3,317.4" fill="#cfcfcf" stroke="#555" stroke-width="0.35"/>
<polygon points="442.1,355.5 444.6,359.2 442.6,363.3 438.4,363.0 435.7,367.8 437.5,372.5 435.1,376.3 431.3,374.8 428.2,379.1 429.0,384.6 426.3,387.9 423.2,385.1 419.7,388.8 419.7,394.9 416.8,397.6 414.4,393.7 410.8,396.6 409.8,403.1 406.8,405.1 405.2,400.2 401.5,402.2 399.7,408.9 396.7,410.0 396.1,404.3 392.5,405.3 389.8,411.9 387.0,412.3 387.2,406.0 383.9,405.9 380.5,412.1 377.9,411.6 379.1,405.0 376.1,403.9 372.2,409.5 369.9,408.2 371.9,401.5 369.4,399.5 365.1,404.3 363.2,402.2 366.1,395.7 364.1,392.7 359.5,396.5 358.2,393.7 361.7,387.6 360.4,383.8 355.7,386.5 354.9,383.1 358.9,377.7 358.4,373.3 353.8,374.6 353.6,370.8 358.0,366.2 358.1,361.4 353.8,361.4 354.2,357.3 358.9,353.8 359.7,348.6 355.8,347.4 356.8,343.1 361.5,340.7 363.0,335.5 359.7,333.0 361.2,328.7 365.8,327.6 367.9,322.5 365.4,318.8 367.4,314.7 371.6,315.0 374.3,310.2 372.5,305.5 374.9,301.7 378.7,303.2 381.8,298.9 381.0,293.4 383.7,290.1 386.8,292.9 390.3,289.2 390.3,283.1 393.2,280.4 395.6,284.3 399.2,281.4 400.2,274.9 403.2,272.9 404.8,277.8 408.5,275.8 410.3,269.1 413.3,268.0 413.9,273.7 417.5,272.7 420.2,266.1 423.0,265.7 422.8,272.0 426.1,272.1 429.5,265.9 432.1,266.4 430.9,273.0 433.9,274.1 437.8,268.5 440.1,269.8 438.1,276.5 440.6,278.5 444.9,273.7 446.8,275.8 443.9,282.3 445.9,285.3 450.5,281.5 451.8,284.3 448.3,290.4 449.6,294.2 454.3,291.5 455.1,294.9 451.1,300.3 451.6,304.7 456.2,303.4 456.4,307.2 452.0,311.8 451.9,316.6 456.2,316.6 455.8,320.7 451.1,324.2 450.3,329.4 454.2,330.6 453.2,334.9 448.5,337.3 447.0,342.5 450.3,345.0 448.8,349.3 444.2,350.4" fill="#9a9a9a" stroke="#555" stroke-width="0.6"/>
<ellipse cx="405.0" cy="339.0" rx="39.3" ry="68.9" transform="rotate(24.0 405.0 339.0)" fill="#b2b2b2" stroke="#666" stroke-width="0.6" />
<ellipse cx="404.0" cy="341.0" rx="34.1" ry="59.0" transform="rotate(24.0 404.0 341.0)" fill="url(#g10)" stroke="#666" stroke-width="0.8" />
<g clip-path="url(#g9)"><polygon points="435.1,354.9 430.5,364.0 412.8,350.3" fill="#e6e6e6" stroke="#666" stroke-width="0.4"/><polygon points="425.0,372.5 419.0,380.0 405.0,362.4" fill="#6a6a6a" stroke="#666" stroke-width="0.4"/><polygon points="412.4,386.3 405.6,391.2 395.6,371.5" fill="#e6e6e6" stroke="#666" stroke-width="0.4"/><polygon points="398.8,394.6 392.1,396.4 385.8,376.4" fill="#6a6a6a" stroke="#666" stroke-width="0.4"/><polygon points="385.8,396.5 380.0,394.9 376.7,376.5" fill="#e6e6e6" stroke="#666" stroke-width="0.4"/><polygon points="375.0,391.7 370.8,386.9 369.5,371.9" fill="#6a6a6a" stroke="#666" stroke-width="0.4"/><polygon points="367.7,380.7 365.6,373.4 365.0,363.1" fill="#e6e6e6" stroke="#666" stroke-width="0.4"/><polygon points="364.7,365.0 365.0,355.9 363.7,351.1" fill="#6a6a6a" stroke="#666" stroke-width="0.4"/><polygon points="366.5,346.4 369.2,336.7 365.9,337.4" fill="#e6e6e6" stroke="#666" stroke-width="0.4"/><polygon points="372.9,327.1 377.5,318.0 371.2,323.7" fill="#6a6a6a" stroke="#666" stroke-width="0.4"/><polygon points="383.0,309.5 389.0,302.0 379.0,311.6" fill="#e6e6e6" stroke="#666" stroke-width="0.4"/><polygon points="395.6,295.7 402.4,290.8 388.4,302.5" fill="#6a6a6a" stroke="#666" stroke-width="0.4"/><polygon points="409.2,287.4 415.9,285.6 398.2,297.6" fill="#e6e6e6" stroke="#666" stroke-width="0.4"/><polygon points="422.2,285.5 428.0,287.1 407.3,297.5" fill="#6a6a6a" stroke="#666" stroke-width="0.4"/><polygon points="433.0,290.3 437.2,295.1 414.5,302.1" fill="#e6e6e6" stroke="#666" stroke-width="0.4"/><polygon points="440.3,301.3 442.4,308.6 419.0,310.9" fill="#6a6a6a" stroke="#666" stroke-width="0.4"/><polygon points="443.3,317.0 443.0,326.1 420.3,322.9" fill="#e6e6e6" stroke="#666" stroke-width="0.4"/><polygon points="441.5,335.6 438.8,345.3 418.1,336.6" fill="#6a6a6a" stroke="#666" stroke-width="0.4"/></g>
<ellipse cx="478.3" cy="385.8" rx="19.9" ry="28.0" transform="rotate(22.0 478.3 385.8)" fill="none" stroke="#6e6e6e" stroke-width="3.6" />
<ellipse cx="485.7" cy="390.0" rx="19.7" ry="28.6" transform="rotate(22.0 485.7 390.0)" fill="none" stroke="#6e6e6e" stroke-width="3.6" />
<g fill="none" stroke="#333" stroke-width="1.1"><circle cx="1291.5" cy="8.9" r="1.4"/><circle cx="1294.6" cy="7" r="1.4"/><circle cx="1297.5" cy="5.2" r="1.4"/><path d="M1282.5,14.5 L1285.5,10"/><circle cx="1285" cy="10.2" r="1.3"/></g><circle cx="1282.3" cy="14.8" r="1.6" fill="#333"/>
<polygon points="423,168 428,164.5 434,166 436,173 434,179 428,180 423,176" fill="#9a9a9a" stroke="#444" stroke-width="0.8"/>
<polygon points="426.8,175.9 426.9,175.6 426.9,175.3 427.0,174.9 427.0,174.6 427.2,174.2 427.3,173.8 427.4,173.5 427.6,173.1 427.8,172.7 428.0,172.4 428.2,172.1 428.5,171.8 428.7,171.4 429.0,171.2 429.2,170.9 429.5,170.7 429.8,170.5 430.1,170.3 430.3,170.1 430.6,170.0 430.9,169.9 431.1,169.8 431.4,169.8 431.6,169.8 431.9,169.8 432.1,169.9 432.3,170.0 460.3,186.0 460.5,186.1 460.6,186.3 460.8,186.5 460.9,186.7 461.0,186.9 461.1,187.2 461.1,187.4 461.2,187.8 461.2,188.1 461.1,188.4 461.1,188.7 461.0,189.1 461.0,189.4 460.8,189.8 460.7,190.2 460.6,190.5 460.4,190.9 460.2,191.3 460.0,191.6 459.8,191.9 459.5,192.2 459.3,192.6 459.0,192.8 458.8,193.1 458.5,193.3 458.2,193.5 457.9,193.7 457.7,193.9 457.4,194.0 457.1,194.1 456.9,194.2 456.6,194.2 456.4,194.2 456.1,194.2 455.9,194.1 455.7,194.0 427.7,178.0 427.5,177.9 427.4,177.7 427.2,177.5 427.1,177.3 427.0,177.1 426.9,176.8 426.9,176.6 426.8,176.2" fill="url(#g11)" stroke="#666" stroke-width="0.8"/>
<ellipse cx="458.0" cy="190.0" rx="2.5" ry="4.6" transform="rotate(29.7 458.0 190.0)" fill="#bbb" stroke="#666" stroke-width="0.8" />
<polygon points="425,170 430,167 433,170 432,177 427,178" fill="#d8d8d8" stroke="none"/>
<path d="M490,206 Q502,200 514,212 Q520,218 522,226" fill="none" stroke="#555" stroke-width="7" stroke-linecap="round"/>
<ellipse cx="491" cy="209" rx="6.5" ry="7" fill="#606060" stroke="#444" stroke-width="0.6"/><ellipse cx="492" cy="209" rx="3" ry="4" transform="rotate(30 492 209)" fill="#f2f2f2"/>
<ellipse cx="517" cy="225" rx="6.5" ry="6.5" fill="#606060" stroke="#444" stroke-width="0.6"/><ellipse cx="518" cy="224.5" rx="2.8" ry="3.8" transform="rotate(30 518 224.5)" fill="#e8e8e8"/>
<polygon points="498.0,447.0 498.2,441.4 498.9,435.8 499.9,430.1 501.2,424.4 502.9,418.7 505.0,413.1 507.4,407.7 510.1,402.4 513.1,397.4 516.3,392.6 519.8,388.1 523.5,383.9 527.4,380.1 531.5,376.6 535.6,373.6 539.9,370.9 544.2,368.8 548.6,367.1 557.6,364.1 562.0,362.9 566.3,362.2 570.5,362.0 574.7,362.3 578.7,363.1 582.5,364.4 586.2,366.1 589.6,368.3 592.8,371.0 595.7,374.1 598.3,377.6 600.6,381.5 602.6,385.7 604.2,390.3 605.5,395.1 606.3,400.2 606.9,405.5 607.0,411.0 606.8,416.6 606.1,422.2 605.1,427.9 603.8,433.6 602.1,439.3 600.0,444.9 597.6,450.3 594.9,455.6 591.9,460.6 588.7,465.4 585.2,469.9 581.5,474.1 577.6,477.9 573.5,481.4 569.4,484.4 565.1,487.1 560.8,489.2 556.4,490.9 547.4,493.9 543.0,495.1 538.7,495.8 534.5,496.0 530.3,495.7 526.3,494.9 522.5,493.6 518.8,491.9 515.4,489.7 512.2,487.0 509.3,483.9 506.7,480.4 504.4,476.5 502.4,472.3 500.8,467.7 499.6,462.9 498.7,457.8 498.1,452.5" fill="#7e7e7e" stroke="#666" stroke-width="0.8"/>
<ellipse cx="557.0" cy="427.5" rx="46.4" ry="68.1" transform="rotate(22.0 557.0 427.5)" fill="#999999" stroke="#666" stroke-width="0.8" />
<ellipse cx="549.5" cy="424.5" rx="33.2" ry="47.2" transform="rotate(22.0 549.5 424.5)" fill="#b8b8b8" stroke="#666" stroke-width="0.8" />
<g clip-path="url(#g12)"><ellipse cx="542.5" cy="423.5" rx="33.2" ry="47.2" transform="rotate(22 542.5 423.5)" fill="#fff"/></g>
<polygon points="526.6,397.8 527.6,396.6 528.6,395.3 529.6,394.1 530.6,393.0 531.7,391.8 532.8,390.8 529.8,386.7 528.6,387.9 527.4,389.1 526.2,390.4 525.1,391.7 524.0,393.1 522.9,394.5" fill="#7a7a7a" stroke="none"/>
<polygon points="555.6,379.1 556.8,379.0 558.0,379.0 559.2,379.0 560.4,379.1 561.6,379.2 562.7,379.4 563.9,374.6 562.6,374.3 561.3,374.2 559.9,374.1 558.5,374.0 557.2,374.0 555.8,374.1" fill="#7a7a7a" stroke="none"/>
<polygon points="576.6,387.6 577.4,388.6 578.2,389.6 578.9,390.6 579.6,391.7 580.2,392.8 580.8,394.0 584.9,391.0 584.1,389.7 583.4,388.5 582.6,387.3 581.8,386.1 580.9,385.0 580.0,383.9" fill="#7a7a7a" stroke="none"/>
<polygon points="522.4,461.4 521.6,460.4 520.8,459.4 520.1,458.4 519.4,457.3 518.8,456.2 518.2,455.0 514.1,458.0 514.9,459.3 515.6,460.5 516.4,461.7 517.2,462.9 518.1,464.0 519.0,465.1" fill="#7a7a7a" stroke="none"/>
<circle cx="596.7" cy="385.0" r="2.3" fill="#bcbcbc" stroke="#777" stroke-width="0.4"/>
<circle cx="601.7" cy="402.1" r="2.3" fill="#bcbcbc" stroke="#777" stroke-width="0.4"/>
<circle cx="601.4" cy="422.3" r="2.3" fill="#bcbcbc" stroke="#777" stroke-width="0.4"/>
<circle cx="595.7" cy="443.1" r="2.3" fill="#bcbcbc" stroke="#777" stroke-width="0.4"/>
<circle cx="585.3" cy="462.1" r="2.3" fill="#bcbcbc" stroke="#777" stroke-width="0.4"/>
<circle cx="512.6" cy="432.7" r="2.3" fill="#bcbcbc" stroke="#777" stroke-width="0.4"/>
<circle cx="518.3" cy="411.9" r="2.3" fill="#bcbcbc" stroke="#777" stroke-width="0.4"/>
<circle cx="538.8" cy="381.4" r="2.3" fill="#bcbcbc" stroke="#777" stroke-width="0.4"/>
<ellipse cx="645.0" cy="315.7" rx="24.2" ry="13.5" transform="rotate(6.0 645.0 315.7)" fill="url(#g13)" stroke="#888" stroke-width="0.8" />
<ellipse cx="645.0" cy="313.0" rx="11.0" ry="5.5" transform="rotate(6.0 645.0 313.0)" fill="#fff" stroke="#888" stroke-width="0.8" />
<polygon points="616.6,380.2 616.9,378.3 617.6,376.4 618.8,374.6 620.4,372.9 622.5,371.3 629.1,366.9 630.9,365.9 632.8,365.1 635.0,364.3 637.4,363.8 639.8,363.3 642.4,363.1 645.0,363.0 647.6,363.1 650.2,363.3 652.6,363.8 655.0,364.3 657.2,365.1 659.1,365.9 660.9,366.9 667.5,371.3 669.6,372.9 671.2,374.6 672.4,376.4 673.1,378.3 673.4,380.2 673.1,382.1 672.4,384.0 671.2,385.8 669.6,387.5 667.5,389.1 665.1,390.5 662.3,391.8 659.2,392.9 655.9,393.7 652.4,394.3 648.7,394.7 645.0,394.8 641.3,394.7 637.6,394.3 634.1,393.7 630.8,392.9 627.7,391.8 624.9,390.5 622.5,389.1 620.4,387.5 618.8,385.8 617.6,384.0 616.9,382.1" fill="#6a6a6a" stroke="#444" stroke-width="0.4"/>
<polygon points="648.4,363.1 653.3,363.9 654.0,365.3" fill="#a8a8a8" stroke="#444" stroke-width="0.4"/><polygon points="642.2,363.1 648.4,363.1 651.1,364.3 639.8,364.2" fill="#dedede" stroke="#444" stroke-width="0.4"/><polygon points="637.2,363.8 642.2,363.1 636.9,365.1" fill="#6a6a6a" stroke="#444" stroke-width="0.4"/><polygon points="631.9,365.4 637.2,363.8 632.6,365.2 623.0,368.3" fill="#a8a8a8" stroke="#444" stroke-width="0.4"/><polygon points="658.5,365.6 661.8,367.6 668.2,370.1" fill="#4e4e4e" stroke="#444" stroke-width="0.4"/><polygon points="653.3,363.9 658.5,365.6 667.7,368.6 658.3,365.4" fill="#4e4e4e" stroke="#444" stroke-width="0.4"/><polygon points="628.5,367.4 631.9,365.4 622.3,369.8" fill="#a8a8a8" stroke="#444" stroke-width="0.4"/><polygon points="625.8,370.2 628.5,367.4 618.0,371.2 613.2,376.4" fill="#dedede" stroke="#444" stroke-width="0.4"/><polygon points="664.3,370.5 665.0,373.0 675.1,378.2" fill="#4e4e4e" stroke="#444" stroke-width="0.4"/><polygon points="661.8,367.6 664.3,370.5 677.0,376.9 672.5,371.6" fill="#6a6a6a" stroke="#444" stroke-width="0.4"/><polygon points="625.0,372.7 625.8,370.2 615.0,377.8" fill="#4e4e4e" stroke="#444" stroke-width="0.4"/><polygon points="625.8,375.8 625.0,372.7 612.0,380.3 613.5,386.0" fill="#6a6a6a" stroke="#444" stroke-width="0.4"/><polygon points="664.0,376.1 661.8,378.4 672.4,386.9" fill="#4e4e4e" stroke="#444" stroke-width="0.4"/><polygon points="665.0,373.0 664.0,376.1 676.2,386.5 678.0,380.8" fill="#4e4e4e" stroke="#444" stroke-width="0.4"/><polygon points="627.9,378.2 625.8,375.8 617.2,386.5" fill="#4e4e4e" stroke="#444" stroke-width="0.4"/><polygon points="631.9,380.6 627.9,378.2 616.5,389.6 623.7,394.0" fill="#6a6a6a" stroke="#444" stroke-width="0.4"/><polygon points="657.7,380.7 653.3,382.1 661.0,393.5" fill="#4e4e4e" stroke="#444" stroke-width="0.4"/><polygon points="661.8,378.4 657.7,380.7 665.5,394.3 673.0,390.0" fill="#4e4e4e" stroke="#444" stroke-width="0.4"/><polygon points="636.2,382.0 631.9,380.6 628.2,393.2" fill="#4e4e4e" stroke="#444" stroke-width="0.4"/><polygon points="642.2,382.9 636.2,382.0 630.0,396.1 640.8,397.9" fill="#4e4e4e" stroke="#444" stroke-width="0.4"/><polygon points="647.3,382.9 642.2,382.9 644.6,395.8" fill="#4e4e4e" stroke="#444" stroke-width="0.4"/><polygon points="653.3,382.1 647.3,382.9 648.3,397.9 659.1,396.4" fill="#4e4e4e" stroke="#444" stroke-width="0.4"/>
<ellipse cx="645.0" cy="373.0" rx="23.0" ry="12.0" transform="rotate(0.0 645.0 373.0)" fill="#bcbcbc" stroke="#555" stroke-width="0.6" />
<ellipse cx="645.0" cy="373.0" rx="12.0" ry="6.0" transform="rotate(0.0 645.0 373.0)" fill="#7a7a7a" stroke="#666" stroke-width="0.6" />
<polygon points="634.5,424.0 634.5,423.6 634.7,423.2 634.9,422.8 635.1,422.4 635.5,422.0 635.9,421.6 636.4,421.3 637.0,421.0 637.6,420.7 638.2,420.4 639.0,420.1 639.8,419.9 640.6,419.7 641.4,419.6 642.3,419.4 643.2,419.4 644.1,419.3 645.0,419.3 645.9,419.3 646.8,419.4 647.7,419.4 648.6,419.6 649.4,419.7 650.2,419.9 651.0,420.1 651.8,420.4 652.4,420.7 653.0,421.0 653.6,421.3 654.1,421.6 654.5,422.0 654.9,422.4 655.1,422.8 655.3,423.2 655.5,423.6 655.5,424.0 655.5,470.0 655.5,470.4 655.3,470.8 655.1,471.2 654.9,471.6 654.5,472.0 654.1,472.4 653.6,472.7 653.0,473.0 652.4,473.3 651.8,473.6 651.0,473.9 650.2,474.1 649.4,474.3 648.6,474.4 647.7,474.6 646.8,474.6 645.9,474.7 645.0,474.7 644.1,474.7 643.2,474.6 642.3,474.6 641.4,474.4 640.6,474.3 639.8,474.1 639.0,473.9 638.2,473.6 637.6,473.3 637.0,473.0 636.4,472.7 635.9,472.4 635.5,472.0 635.1,471.6 634.9,471.2 634.7,470.8 634.5,470.4 634.5,470.0" fill="url(#g14)" stroke="#666" stroke-width="0.8"/>
<ellipse cx="645.0" cy="424.0" rx="4.7" ry="10.5" transform="rotate(-90.0 645.0 424.0)" fill="url(#g15)" stroke="#666" stroke-width="0.8" />
<polygon points="643.8,465.1 643.9,464.4 644.0,463.7 644.1,463.0 644.3,462.4 644.5,461.9 644.8,461.4 645.1,461.0 645.5,460.7 645.9,460.4 646.3,460.2 696.3,441.2 696.7,441.1 697.2,441.0 697.7,441.0 698.2,441.1 698.7,441.3 699.2,441.6 699.8,441.9 700.3,442.3 700.8,442.7 701.4,443.3 701.9,443.8 702.4,444.5 702.9,445.2 703.3,445.9 703.8,446.7 704.2,447.5 704.6,448.3 704.9,449.1 705.2,450.0 705.5,450.9 705.7,451.7 705.9,452.6 706.0,453.5 706.1,454.3 706.2,455.1 706.2,455.9 706.1,456.6 706.0,457.3 705.9,458.0 705.7,458.6 705.5,459.1 705.2,459.6 704.9,460.0 704.5,460.3 704.1,460.6 703.7,460.8 653.7,479.8 653.3,479.9 652.8,480.0 652.3,480.0 651.8,479.9 651.3,479.7 650.8,479.4 650.2,479.1 649.7,478.7 649.2,478.3 648.6,477.7 648.1,477.2 647.6,476.5 647.1,475.8 646.7,475.1 646.2,474.3 645.8,473.5 645.4,472.7 645.1,471.9 644.8,471.0 644.5,470.1 644.3,469.3 644.1,468.4 644.0,467.5 643.9,466.7 643.8,465.9" fill="url(#g16)" stroke="#666" stroke-width="0.8"/>
<ellipse cx="700.0" cy="451.0" rx="5.2" ry="10.5" transform="rotate(-20.8 700.0 451.0)" fill="url(#g17)" stroke="#666" stroke-width="0.8" />
<polygon points="634.0,500.0 634.0,499.6 634.2,499.1 634.4,498.7 634.7,498.3 635.0,497.9 635.5,497.5 636.0,497.2 636.6,496.8 637.2,496.5 637.9,496.2 638.7,495.9 639.5,495.7 640.4,495.5 641.2,495.4 642.1,495.2 643.1,495.1 644.0,495.1 645.0,495.1 646.0,495.1 646.9,495.1 647.9,495.2 648.8,495.4 649.6,495.5 650.5,495.7 651.3,495.9 652.1,496.2 652.8,496.5 653.4,496.8 654.0,497.2 654.5,497.5 655.0,497.9 655.3,498.3 655.6,498.7 655.8,499.1 656.0,499.6 656.0,500.0 656.0,541.0 656.0,541.4 655.8,541.9 655.6,542.3 655.3,542.7 655.0,543.1 654.5,543.5 654.0,543.8 653.4,544.2 652.8,544.5 652.1,544.8 651.3,545.0 650.5,545.3 649.6,545.5 648.8,545.6 647.9,545.8 646.9,545.9 646.0,545.9 645.0,546.0 644.0,545.9 643.1,545.9 642.1,545.8 641.2,545.6 640.4,545.5 639.5,545.3 638.7,545.0 637.9,544.8 637.2,544.5 636.6,544.2 636.0,543.8 635.5,543.5 635.0,543.1 634.7,542.7 634.4,542.3 634.2,541.9 634.0,541.4 634.0,541.0" fill="url(#g18)" stroke="#666" stroke-width="0.8"/>
<ellipse cx="645.0" cy="541.0" rx="5.0" ry="11.0" transform="rotate(90.0 645.0 541.0)" fill="url(#g19)" stroke="#666" stroke-width="0.8" />
<ellipse cx="636.0" cy="476.0" rx="42.0" ry="41.0" transform="rotate(0.0 636.0 476.0)" fill="url(#g20)" stroke="#666" stroke-width="0.8" />
<polygon points="634.5,424.0 634.5,423.6 634.7,423.2 634.9,422.8 635.1,422.4 635.5,422.0 635.9,421.6 636.4,421.3 637.0,421.0 637.6,420.7 638.2,420.4 639.0,420.1 639.8,419.9 640.6,419.7 641.4,419.6 642.3,419.4 643.2,419.4 644.1,419.3 645.0,419.3 645.9,419.3 646.8,419.4 647.7,419.4 648.6,419.6 649.4,419.7 650.2,419.9 651.0,420.1 651.8,420.4 652.4,420.7 653.0,421.0 653.6,421.3 654.1,421.6 654.5,422.0 654.9,422.4 655.1,422.8 655.3,423.2 655.5,423.6 655.5,424.0 655.5,470.0 655.5,470.4 655.3,470.8 655.1,471.2 654.9,471.6 654.5,472.0 654.1,472.4 653.6,472.7 653.0,473.0 652.4,473.3 651.8,473.6 651.0,473.9 650.2,474.1 649.4,474.3 648.6,474.4 647.7,474.6 646.8,474.6 645.9,474.7 645.0,474.7 644.1,474.7 643.2,474.6 642.3,474.6 641.4,474.4 640.6,474.3 639.8,474.1 639.0,473.9 638.2,473.6 637.6,473.3 637.0,473.0 636.4,472.7 635.9,472.4 635.5,472.0 635.1,471.6 634.9,471.2 634.7,470.8 634.5,470.4 634.5,470.0" fill="url(#g21)" stroke="#666" stroke-width="0.8"/>
<ellipse cx="645.0" cy="424.0" rx="4.7" ry="10.5" transform="rotate(-90.0 645.0 424.0)" fill="url(#g22)" stroke="#666" stroke-width="0.8" />
<ellipse cx="657.0" cy="490.0" rx="21.0" ry="29.0" transform="rotate(28.0 657.0 490.0)" fill="url(#g23)" stroke="#666" stroke-width="0.8" />
<g clip-path="url(#g24)"><line x1="630" y1="442" x2="690" y2="458" stroke="#6a6a6a" stroke-width="1.6"/><line x1="630" y1="447" x2="690" y2="463" stroke="#d8d8d8" stroke-width="1.6"/><line x1="630" y1="452" x2="690" y2="468" stroke="#6a6a6a" stroke-width="1.6"/><line x1="630" y1="457" x2="690" y2="473" stroke="#d8d8d8" stroke-width="1.6"/><line x1="630" y1="462" x2="690" y2="478" stroke="#6a6a6a" stroke-width="1.6"/><line x1="630" y1="467" x2="690" y2="483" stroke="#d8d8d8" stroke-width="1.6"/><line x1="630" y1="472" x2="690" y2="488" stroke="#6a6a6a" stroke-width="1.6"/><line x1="630" y1="477" x2="690" y2="493" stroke="#d8d8d8" stroke-width="1.6"/><line x1="630" y1="482" x2="690" y2="498" stroke="#6a6a6a" stroke-width="1.6"/><line x1="630" y1="487" x2="690" y2="503" stroke="#d8d8d8" stroke-width="1.6"/><line x1="630" y1="492" x2="690" y2="508" stroke="#6a6a6a" stroke-width="1.6"/><line x1="630" y1="497" x2="690" y2="513" stroke="#d8d8d8" stroke-width="1.6"/><line x1="630" y1="502" x2="690" y2="518" stroke="#6a6a6a" stroke-width="1.6"/><line x1="630" y1="507" x2="690" y2="523" stroke="#d8d8d8" stroke-width="1.6"/><line x1="630" y1="512" x2="690" y2="528" stroke="#6a6a6a" stroke-width="1.6"/><line x1="630" y1="517" x2="690" y2="533" stroke="#d8d8d8" stroke-width="1.6"/><line x1="630" y1="522" x2="690" y2="538" stroke="#6a6a6a" stroke-width="1.6"/><line x1="630" y1="527" x2="690" y2="543" stroke="#d8d8d8" stroke-width="1.6"/></g>
<polygon points="588.0,505.8 588.0,505.1 588.1,504.4 588.3,503.7 588.6,503.0 588.9,502.4 589.2,501.9 589.6,501.4 590.0,501.0 590.5,500.6 619.5,481.6 620.0,481.3 620.6,481.1 621.2,480.9 621.9,480.8 622.5,480.8 623.2,480.8 623.9,480.9 624.6,481.1 625.3,481.4 626.0,481.7 626.6,482.1 627.3,482.5 628.0,483.0 628.6,483.5 629.2,484.1 629.8,484.8 630.4,485.4 630.9,486.2 631.3,486.9 631.7,487.7 632.1,488.5 632.4,489.3 632.6,490.1 632.8,490.9 632.9,491.7 633.0,492.4 633.0,493.2 633.0,493.9 632.9,494.6 632.7,495.3 632.4,496.0 632.1,496.6 631.8,497.1 631.4,497.6 631.0,498.0 630.5,498.4 601.5,517.4 601.0,517.7 600.4,517.9 599.8,518.1 599.1,518.2 598.5,518.2 597.8,518.2 597.1,518.0 596.4,517.9 595.7,517.6 595.0,517.3 594.4,516.9 593.7,516.5 593.0,516.0 592.4,515.5 591.8,514.9 591.2,514.2 590.6,513.5 590.1,512.8 589.7,512.1 589.3,511.3 588.9,510.5 588.6,509.7 588.4,508.9 588.2,508.1 588.1,507.3 588.0,506.6" fill="url(#g25)" stroke="#666" stroke-width="0.8"/>
<ellipse cx="596.0" cy="509.0" rx="7.0" ry="10.0" transform="rotate(146.8 596.0 509.0)" fill="url(#g26)" stroke="#666" stroke-width="0.8" />
<polygon points="708.5,442.0 708.5,438.5 708.8,435.3 709.5,432.1 710.4,429.0 711.7,426.0 713.2,423.2 715.0,420.6 717.1,418.2 719.3,416.1 721.7,414.4 724.1,413.0 726.7,412.0 729.3,411.4 731.8,411.2 734.3,411.4 736.7,412.1 739.0,413.1 741.0,414.5 742.9,416.3 744.5,418.4 745.8,420.9 746.8,423.5 747.5,426.4 747.9,429.4 747.9,432.5 747.6,435.7 746.9,438.9 746.0,442.0 744.7,445.0 743.2,447.8 741.4,450.4 739.3,452.8 737.1,454.9 734.7,456.6 732.3,458.0 729.7,459.0 727.1,459.6 724.6,459.8 722.1,459.6 719.7,458.9 717.4,457.9 715.4,456.5 713.5,454.7 711.6,452.3 710.6,451.0 709.8,449.4 709.2,447.7 708.7,445.9 708.5,444.0" fill="#707070" stroke="#444" stroke-width="0.4"/>
<polygon points="723.7,424.4 726.5,425.0 735.0,409.8" fill="#b8b8b8" stroke="#444" stroke-width="0.4"/><polygon points="720.1,424.9 723.7,424.4 734.7,406.8 726.4,407.9" fill="#e0e0e0" stroke="#444" stroke-width="0.4"/><polygon points="729.4,426.7 731.4,429.0 744.1,415.2" fill="#505050" stroke="#444" stroke-width="0.4"/><polygon points="726.5,425.0 729.4,426.7 745.0,411.6 738.1,407.5" fill="#707070" stroke="#444" stroke-width="0.4"/><polygon points="717.2,426.3 720.1,424.9 724.1,411.3" fill="#707070" stroke="#444" stroke-width="0.4"/><polygon points="714.0,428.9 717.2,426.3 722.8,409.6 715.3,415.7" fill="#b8b8b8" stroke="#444" stroke-width="0.4"/><polygon points="732.9,432.6 733.5,436.0 748.9,426.0" fill="#707070" stroke="#444" stroke-width="0.4"/><polygon points="731.4,429.0 732.9,432.6 751.1,422.7 747.4,414.4" fill="#b8b8b8" stroke="#444" stroke-width="0.4"/><polygon points="711.7,431.8 714.0,428.9 714.3,419.2" fill="#b8b8b8" stroke="#444" stroke-width="0.4"/><polygon points="709.7,435.9 711.7,431.8 712.6,419.1 708.0,428.6" fill="#e0e0e0" stroke="#444" stroke-width="0.4"/><polygon points="733.2,440.5 732.3,444.1 748.2,439.4" fill="#505050" stroke="#444" stroke-width="0.4"/><polygon points="733.5,436.0 733.2,440.5 751.2,437.1 751.8,426.8" fill="#505050" stroke="#444" stroke-width="0.4"/><polygon points="708.8,439.5 709.7,435.9 708.2,431.6" fill="#707070" stroke="#444" stroke-width="0.4"/><polygon points="708.5,444.0 708.8,439.5 706.8,432.9 706.2,443.2" fill="#b8b8b8" stroke="#444" stroke-width="0.4"/><polygon points="730.3,448.2 728.0,451.1 742.1,451.8" fill="#505050" stroke="#444" stroke-width="0.4"/><polygon points="732.3,444.1 730.3,448.2 745.4,450.9 750.0,441.4" fill="#505050" stroke="#444" stroke-width="0.4"/><polygon points="709.1,447.4 708.5,444.0 707.5,445.0" fill="#505050" stroke="#444" stroke-width="0.4"/><polygon points="710.6,451.0 709.1,447.4 706.9,447.3 710.6,455.6" fill="#707070" stroke="#444" stroke-width="0.4"/><polygon points="724.8,453.7 721.9,455.1 732.3,459.7" fill="#505050" stroke="#444" stroke-width="0.4"/><polygon points="728.0,451.1 724.8,453.7 735.2,460.4 742.7,454.3" fill="#505050" stroke="#444" stroke-width="0.4"/><polygon points="712.6,453.3 710.6,451.0 712.3,455.8" fill="#505050" stroke="#444" stroke-width="0.4"/><polygon points="715.5,455.0 712.6,453.3 713.0,458.4 719.9,462.5" fill="#505050" stroke="#444" stroke-width="0.4"/><polygon points="718.3,455.6 715.5,455.0 721.4,461.2" fill="#505050" stroke="#444" stroke-width="0.4"/><polygon points="721.9,455.1 718.3,455.6 723.3,463.2 731.6,462.1" fill="#505050" stroke="#444" stroke-width="0.4"/>
<ellipse cx="721.0" cy="440.0" rx="9.0" ry="13.0" transform="rotate(20.0 721.0 440.0)" fill="#c8c8c8" stroke="#555" stroke-width="0.6" />
<ellipse cx="779.0" cy="405.3" rx="15.0" ry="22.5" transform="rotate(28.0 779.0 405.3)" fill="url(#g27)" stroke="#777" stroke-width="0.8" />
<ellipse cx="777.0" cy="404.0" rx="8.0" ry="12.0" transform="rotate(28.0 777.0 404.0)" fill="#fff" stroke="#888" stroke-width="0.8" />
<ellipse cx="495.5" cy="568.0" rx="15.5" ry="23.0" transform="rotate(28.0 495.5 568.0)" fill="url(#g28)" stroke="#777" stroke-width="0.8" />
<ellipse cx="492.0" cy="570.0" rx="8.0" ry="11.5" transform="rotate(28.0 492.0 570.0)" fill="#fff" stroke="#888" stroke-width="0.8" />
<polygon points="534.2,539.8 534.3,536.8 534.7,533.7 535.4,530.7 536.5,527.7 537.8,524.9 539.4,522.2 541.2,519.7 543.2,517.5 545.4,515.5 547.7,513.9 550.2,512.7 552.6,511.8 555.1,511.3 557.6,511.2 560.0,511.5 562.2,512.2 564.3,513.2 566.2,514.7 567.9,516.5 569.4,518.5 570.5,520.9 571.4,523.5 572.0,526.3 572.2,529.2 572.1,532.2 571.7,535.3 571.0,538.3 569.9,541.3 568.6,544.1 567.0,546.8 565.2,549.3 563.2,551.5 561.0,553.5 558.7,555.1 556.2,556.3 553.8,557.2 551.3,557.7 548.8,557.8 546.4,557.5 544.2,556.8 542.1,555.8 540.1,554.3 538.5,552.5 537.0,550.5 536.0,549.0 535.3,547.5 534.8,545.9 534.5,544.2 534.4,542.4" fill="#5e5e5e" stroke="#444" stroke-width="0.4"/>
<polygon points="550.5,524.7 553.3,526.0 563.5,510.9" fill="#8a8a8a" stroke="#444" stroke-width="0.4"/><polygon points="545.8,524.9 550.5,524.7 563.5,507.7 552.2,507.9" fill="#b8b8b8" stroke="#444" stroke-width="0.4"/><polygon points="556.4,529.8 557.4,533.2 572.4,521.6" fill="#454545" stroke="#444" stroke-width="0.4"/><polygon points="553.3,526.0 556.4,529.8 574.1,518.0 566.8,509.2" fill="#5e5e5e" stroke="#444" stroke-width="0.4"/><polygon points="542.6,526.4 545.8,524.9 549.8,511.2" fill="#5e5e5e" stroke="#444" stroke-width="0.4"/><polygon points="538.3,530.4 542.6,526.4 548.4,509.6 538.4,518.9" fill="#8a8a8a" stroke="#444" stroke-width="0.4"/><polygon points="557.4,539.1 556.2,543.1 572.3,538.3" fill="#454545" stroke="#444" stroke-width="0.4"/><polygon points="557.4,533.2 557.4,539.1 575.3,535.8 575.4,522.0" fill="#5e5e5e" stroke="#444" stroke-width="0.4"/><polygon points="536.2,533.9 538.3,530.4 537.7,522.5" fill="#8a8a8a" stroke="#444" stroke-width="0.4"/><polygon points="534.5,539.9 536.2,533.9 536.0,523.0 532.0,536.9" fill="#b8b8b8" stroke="#444" stroke-width="0.4"/><polygon points="553.0,548.4 550.2,551.1 563.3,553.3" fill="#454545" stroke="#444" stroke-width="0.4"/><polygon points="556.2,543.1 553.0,548.4 566.6,552.8 574.0,540.5" fill="#454545" stroke="#444" stroke-width="0.4"/><polygon points="534.4,543.8 534.5,539.9 532.9,539.3" fill="#454545" stroke="#444" stroke-width="0.4"/><polygon points="536.0,549.0 534.4,543.8 532.0,541.5 535.8,553.6" fill="#5e5e5e" stroke="#444" stroke-width="0.4"/><polygon points="545.4,553.3 542.2,553.4 549.6,559.5" fill="#454545" stroke="#444" stroke-width="0.4"/><polygon points="550.2,551.1 545.4,553.3 552.0,561.0 563.2,555.9" fill="#454545" stroke="#444" stroke-width="0.4"/><polygon points="538.1,551.5 536.0,549.0 537.5,553.9" fill="#454545" stroke="#444" stroke-width="0.4"/><polygon points="542.2,553.4 538.1,551.5 538.3,556.5 548.2,561.1" fill="#454545" stroke="#444" stroke-width="0.4"/>
<ellipse cx="546.0" cy="539.0" rx="8.0" ry="11.0" transform="rotate(22.0 546.0 539.0)" fill="#c0c0c0" stroke="#555" stroke-width="0.6" />
<polygon points="617.5,577.7 617.7,575.8 618.4,573.9 619.6,572.1 621.2,570.4 623.2,568.8 633.9,561.7 635.1,561.0 636.5,560.5 638.0,559.9 639.6,559.5 641.4,559.2 643.2,559.1 645.0,559.0 646.8,559.1 648.6,559.2 650.4,559.5 652.0,559.9 653.5,560.5 654.9,561.0 656.1,561.7 666.8,568.8 668.8,570.4 670.4,572.1 671.6,573.9 672.3,575.8 672.5,577.7 672.3,579.6 671.6,581.5 670.4,583.3 668.8,585.0 666.8,586.6 664.5,588.0 661.8,589.3 658.8,590.4 655.5,591.2 652.1,591.8 648.6,592.2 645.0,592.3 641.4,592.2 637.9,591.8 634.5,591.2 631.2,590.4 628.2,589.3 625.5,588.0 623.2,586.6 621.2,585.0 619.6,583.3 618.4,581.5 617.7,579.6" fill="#8a8a8a" stroke="#444" stroke-width="0.4"/>
<polygon points="649.0,559.3 652.0,559.9 656.6,563.3" fill="#606060" stroke="#444" stroke-width="0.4"/><polygon points="645.0,559.0 649.0,559.3 654.9,562.8 644.2,562.0" fill="#606060" stroke="#444" stroke-width="0.4"/><polygon points="641.7,559.2 645.0,559.0 641.5,562.2" fill="#606060" stroke="#444" stroke-width="0.4"/><polygon points="638.0,559.9 641.7,559.2 638.3,562.4 628.3,564.5" fill="#8a8a8a" stroke="#444" stroke-width="0.4"/><polygon points="655.2,561.2 657.1,562.5 668.6,568.3" fill="#8a8a8a" stroke="#444" stroke-width="0.4"/><polygon points="652.0,559.9 655.2,561.2 668.8,567.6 660.3,564.1" fill="#bcbcbc" stroke="#444" stroke-width="0.4"/><polygon points="635.4,560.9 638.0,559.9 627.4,565.2" fill="#606060" stroke="#444" stroke-width="0.4"/><polygon points="632.9,562.5 635.4,560.9 623.6,566.4 616.9,570.9" fill="#8a8a8a" stroke="#444" stroke-width="0.4"/><polygon points="658.6,564.4 659.0,566.0 674.2,575.9" fill="#606060" stroke="#444" stroke-width="0.4"/><polygon points="657.1,562.5 658.6,564.4 676.3,575.5 672.3,570.1" fill="#8a8a8a" stroke="#444" stroke-width="0.4"/><polygon points="631.6,564.0 632.9,562.5 618.0,571.5" fill="#8a8a8a" stroke="#444" stroke-width="0.4"/><polygon points="631.0,566.0 631.6,564.0 614.6,573.7 613.0,579.4" fill="#bcbcbc" stroke="#444" stroke-width="0.4"/><polygon points="658.4,568.0 657.1,569.5 672.0,583.9" fill="#bcbcbc" stroke="#444" stroke-width="0.4"/><polygon points="659.0,566.0 658.4,568.0 675.4,584.3 677.0,578.6" fill="#e4e4e4" stroke="#444" stroke-width="0.4"/><polygon points="631.4,567.6 631.0,566.0 615.8,579.5" fill="#606060" stroke="#444" stroke-width="0.4"/><polygon points="632.9,569.5 631.4,567.6 613.7,582.5 617.7,587.9" fill="#8a8a8a" stroke="#444" stroke-width="0.4"/><polygon points="654.6,571.1 652.0,572.1 662.6,590.2" fill="#8a8a8a" stroke="#444" stroke-width="0.4"/><polygon points="657.1,569.5 654.6,571.1 666.4,591.6 673.1,587.1" fill="#bcbcbc" stroke="#444" stroke-width="0.4"/><polygon points="634.8,570.8 632.9,569.5 621.4,587.1" fill="#bcbcbc" stroke="#444" stroke-width="0.4"/><polygon points="638.0,572.1 634.8,570.8 621.2,590.4 629.7,593.9" fill="#e4e4e4" stroke="#444" stroke-width="0.4"/><polygon points="648.3,572.8 645.0,573.0 648.5,593.2" fill="#bcbcbc" stroke="#444" stroke-width="0.4"/><polygon points="652.0,572.1 648.3,572.8 651.7,595.6 661.7,593.5" fill="#e4e4e4" stroke="#444" stroke-width="0.4"/><polygon points="641.0,572.7 638.0,572.1 633.4,592.1" fill="#8a8a8a" stroke="#444" stroke-width="0.4"/><polygon points="645.0,573.0 641.0,572.7 635.1,595.2 645.8,596.0" fill="#bcbcbc" stroke="#444" stroke-width="0.4"/>
<ellipse cx="645.0" cy="566.0" rx="13.0" ry="6.5" transform="rotate(0.0 645.0 566.0)" fill="#8a8a8a" stroke="#555" stroke-width="0.6" />
<ellipse cx="645.0" cy="636.0" rx="24.0" ry="14.0" transform="rotate(6.0 645.0 636.0)" fill="url(#g29)" stroke="#888" stroke-width="0.8" />
<ellipse cx="644.0" cy="639.0" rx="11.0" ry="6.0" transform="rotate(6.0 644.0 639.0)" fill="#fff" stroke="#888" stroke-width="0.8" />
<polygon points="683.0,524.4 683.1,522.1 683.3,519.8 683.7,517.4 684.2,515.0 684.9,512.6 685.6,510.3 686.5,508.0 687.6,505.8 688.7,503.6 689.9,501.5 691.3,499.6 692.7,497.8 694.2,496.1 695.7,494.6 697.3,493.2 699.0,492.0 700.6,491.0 702.3,490.2 704.0,489.6 705.6,489.2 707.2,489.0 708.8,489.0 710.4,489.2 720.1,491.7 721.5,492.1 722.9,492.7 724.3,493.5 725.5,494.6 726.6,495.8 727.6,497.1 728.5,498.7 729.3,500.4 729.9,502.2 730.4,504.1 730.7,506.2 730.9,508.4 731.0,510.6 730.9,512.9 730.7,515.2 730.3,517.6 729.8,520.0 729.1,522.4 728.4,524.7 727.5,527.0 726.4,529.2 725.3,531.4 724.1,533.5 722.7,535.4 721.3,537.2 719.8,538.9 718.3,540.4 716.7,541.8 715.0,543.0 713.4,544.0 711.7,544.8 710.0,545.4 708.4,545.8 706.8,546.0 705.2,546.0 703.6,545.8 693.9,543.3 692.5,542.9 691.1,542.3 689.7,541.5 688.5,540.5 687.4,539.2 686.4,537.9 685.5,536.3 684.7,534.6 684.1,532.8 683.6,530.9 683.3,528.8 683.1,526.6" fill="#9a9a9a" stroke="#6a6a6a" stroke-width="0.8"/>
<ellipse cx="711.9" cy="518.7" rx="17.6" ry="28.3" transform="rotate(20.0 711.9 518.7)" fill="#a6a6a6" stroke="#6a6a6a" stroke-width="0.8" />
<polyline points="697.0,543.3 695.7,542.2 694.5,540.9 693.5,539.4 692.6,537.7 691.8,535.9 691.2,533.9 690.7,531.7 690.4,529.5 690.3,527.1 690.3,524.7 690.5,522.2 690.9,519.7 691.4,517.1 692.1,514.6 692.9,512.1 693.9,509.6 695.0,507.3 696.2,505.0 697.6,502.8 699.0,500.8 700.6,498.9 702.2,497.2 703.8,495.6 705.6,494.3 707.3,493.2 709.1,492.2 710.9,491.5 712.7,491.1 714.4,490.8 716.1,490.8" fill="none" stroke="#dadada" stroke-width="1.2"/>
<polyline points="694.6,542.7 693.3,541.6 692.1,540.3 691.1,538.8 690.1,537.1 689.4,535.3 688.7,533.3 688.3,531.1 688.0,528.9 687.9,526.5 687.9,524.1 688.1,521.6 688.5,519.1 689.0,516.5 689.7,514.0 690.5,511.5 691.5,509.0 692.6,506.7 693.8,504.4 695.1,502.2 696.6,500.2 698.1,498.3 699.7,496.6 701.4,495.0 703.1,493.7 704.9,492.6 706.7,491.6 708.5,490.9 710.2,490.5 712.0,490.2 713.7,490.2" fill="none" stroke="#dadada" stroke-width="1.2"/>
<polyline points="692.2,542.1 690.9,541.0 689.7,539.7 688.6,538.2 687.7,536.5 686.9,534.7 686.3,532.7 685.9,530.5 685.6,528.3 685.4,525.9 685.5,523.5 685.7,521.0 686.0,518.5 686.5,515.9 687.2,513.4 688.1,510.9 689.0,508.4 690.1,506.1 691.4,503.8 692.7,501.6 694.2,499.6 695.7,497.7 697.3,496.0 699.0,494.4 700.7,493.1 702.5,492.0 704.3,491.0 706.0,490.3 707.8,489.9 709.6,489.6 711.2,489.6" fill="none" stroke="#dadada" stroke-width="1.2"/>
<ellipse cx="712.9" cy="518.7" rx="12.7" ry="21.0" transform="rotate(20.0 712.9 518.7)" fill="url(#g31)" stroke="#666" stroke-width="0.8" />
<g clip-path="url(#g30)"><ellipse cx="704.4" cy="515.6" rx="12.7" ry="21.0" transform="rotate(20.0 704.4 515.6)" fill="#fff"/></g>
<ellipse cx="753.0" cy="544.0" rx="16.4" ry="24.3" transform="rotate(20.0 753.0 544.0)" fill="none" stroke="#7e7e7e" stroke-width="5" />
<ellipse cx="764.5" cy="550.0" rx="17.0" ry="24.2" transform="rotate(20.0 764.5 550.0)" fill="none" stroke="#7e7e7e" stroke-width="5" />
<ellipse cx="801.5" cy="571.5" rx="14.5" ry="19.7" transform="rotate(20.0 801.5 571.5)" fill="none" stroke="#7a7a7a" stroke-width="2.6" />
<polygon points="819.0,600.5 819.1,598.6 819.3,596.7 819.6,594.7 820.1,592.8 820.6,590.8 821.3,588.8 822.0,586.9 822.9,585.1 823.8,583.3 824.8,581.6 825.9,580.0 827.0,578.4 828.2,577.0 829.5,575.8 830.8,574.6 832.1,573.6 833.4,572.8 834.8,572.1 836.1,571.6 837.4,571.2 838.7,571.0 840.0,571.0 841.2,571.2 860.6,576.0 861.7,576.3 862.8,576.8 863.9,577.5 864.8,578.3 865.7,579.3 866.5,580.4 867.2,581.7 867.8,583.0 868.2,584.5 868.6,586.2 868.8,587.9 869.0,589.6 869.0,591.5 868.9,593.4 868.7,595.3 868.4,597.3 867.9,599.2 867.4,601.2 866.7,603.2 866.0,605.1 865.1,606.9 864.2,608.7 863.2,610.4 862.1,612.0 861.0,613.6 859.8,615.0 858.5,616.2 857.2,617.4 855.9,618.4 854.6,619.2 853.2,619.9 851.9,620.4 850.6,620.8 849.3,621.0 848.0,621.0 846.8,620.8 827.4,616.0 826.3,615.7 825.2,615.2 824.1,614.5 823.2,613.7 822.3,612.7 821.5,611.6 820.8,610.3 820.2,609.0 819.8,607.5 819.4,605.8 819.2,604.1 819.0,602.4" fill="url(#g32)" stroke="#6a6a6a" stroke-width="0.8"/>
<ellipse cx="853.7" cy="598.4" rx="13.9" ry="23.5" transform="rotate(20.0 853.7 598.4)" fill="url(#g33)" stroke="#6a6a6a" stroke-width="0.8" />
<g clip-path="url(#g34)"><line x1="800.0" y1="555.0" x2="880.0" y2="575.0" stroke="#8a8a8a" stroke-width="1"/><line x1="798.9" y1="559.0" x2="878.9" y2="579.0" stroke="#8a8a8a" stroke-width="1"/><line x1="797.8" y1="563.0" x2="877.8" y2="583.0" stroke="#8a8a8a" stroke-width="1"/><line x1="796.7" y1="567.0" x2="876.7" y2="587.0" stroke="#8a8a8a" stroke-width="1"/><line x1="795.6" y1="571.0" x2="875.6" y2="591.0" stroke="#8a8a8a" stroke-width="1"/><line x1="794.5" y1="575.0" x2="874.5" y2="595.0" stroke="#8a8a8a" stroke-width="1"/><line x1="793.4" y1="579.0" x2="873.4" y2="599.0" stroke="#8a8a8a" stroke-width="1"/><line x1="792.3" y1="583.0" x2="872.3" y2="603.0" stroke="#8a8a8a" stroke-width="1"/><line x1="791.2" y1="587.0" x2="871.2" y2="607.0" stroke="#8a8a8a" stroke-width="1"/><line x1="790.1" y1="591.0" x2="870.1" y2="611.0" stroke="#8a8a8a" stroke-width="1"/><line x1="789.0" y1="595.0" x2="869.0" y2="615.0" stroke="#8a8a8a" stroke-width="1"/><line x1="787.9" y1="599.0" x2="867.9" y2="619.0" stroke="#8a8a8a" stroke-width="1"/><line x1="786.8" y1="603.0" x2="866.8" y2="623.0" stroke="#8a8a8a" stroke-width="1"/><line x1="785.7" y1="607.0" x2="865.7" y2="627.0" stroke="#8a8a8a" stroke-width="1"/><line x1="784.6" y1="611.0" x2="864.6" y2="631.0" stroke="#8a8a8a" stroke-width="1"/><line x1="783.5" y1="615.0" x2="863.5" y2="635.0" stroke="#8a8a8a" stroke-width="1"/><line x1="782.4" y1="619.0" x2="862.4" y2="639.0" stroke="#8a8a8a" stroke-width="1"/><line x1="781.3" y1="623.0" x2="861.3" y2="643.0" stroke="#8a8a8a" stroke-width="1"/><line x1="780.2" y1="627.0" x2="860.2" y2="647.0" stroke="#8a8a8a" stroke-width="1"/><line x1="779.1" y1="631.0" x2="859.1" y2="651.0" stroke="#8a8a8a" stroke-width="1"/></g>
<ellipse cx="853.7" cy="598.4" rx="13.9" ry="23.5" transform="rotate(20.0 853.7 598.4)" fill="#d8d8d8" stroke="#666" stroke-width="0.8" />
<ellipse cx="853.7" cy="598.4" rx="11.4" ry="20.2" transform="rotate(20.0 853.7 598.4)" fill="#fff" stroke="#888" stroke-width="0.8" />
<g clip-path="url(#g35)"><ellipse cx="839.7" cy="594.4" rx="11.4" ry="20.2" transform="rotate(20 839.7 594.4)" fill="#cfcfcf" stroke="#888"/><line x1="813.7" y1="568.4" x2="873.7" y2="583.4" stroke="#8a8a8a" stroke-width="1"/><line x1="813.7" y1="572.9" x2="873.7" y2="587.9" stroke="#8a8a8a" stroke-width="1"/><line x1="813.7" y1="577.4" x2="873.7" y2="592.4" stroke="#8a8a8a" stroke-width="1"/><line x1="813.7" y1="581.9" x2="873.7" y2="596.9" stroke="#8a8a8a" stroke-width="1"/><line x1="813.7" y1="586.4" x2="873.7" y2="601.4" stroke="#8a8a8a" stroke-width="1"/><line x1="813.7" y1="590.9" x2="873.7" y2="605.9" stroke="#8a8a8a" stroke-width="1"/><line x1="813.7" y1="595.4" x2="873.7" y2="610.4" stroke="#8a8a8a" stroke-width="1"/><line x1="813.7" y1="599.9" x2="873.7" y2="614.9" stroke="#8a8a8a" stroke-width="1"/><line x1="813.7" y1="604.4" x2="873.7" y2="619.4" stroke="#8a8a8a" stroke-width="1"/><line x1="813.7" y1="608.9" x2="873.7" y2="623.9" stroke="#8a8a8a" stroke-width="1"/><line x1="813.7" y1="613.4" x2="873.7" y2="628.4" stroke="#8a8a8a" stroke-width="1"/><line x1="813.7" y1="617.9" x2="873.7" y2="632.9" stroke="#8a8a8a" stroke-width="1"/><line x1="813.7" y1="622.4" x2="873.7" y2="637.4" stroke="#8a8a8a" stroke-width="1"/><line x1="813.7" y1="626.9" x2="873.7" y2="641.9" stroke="#8a8a8a" stroke-width="1"/></g>
<polygon points="743.1,611.5 743.1,611.2 743.1,611.0 743.2,610.7 743.3,610.4 743.4,610.1 743.5,609.8 743.6,609.5 743.8,609.2 744.0,608.9 744.2,608.7 744.4,608.4 744.6,608.1 744.8,607.9 745.0,607.7 745.3,607.5 745.5,607.3 745.8,607.1 746.0,607.0 746.3,606.9 746.5,606.8 746.8,606.7 747.0,606.7 747.2,606.6 747.5,606.6 747.7,606.7 747.9,606.7 748.1,606.8 748.2,606.9 770.2,622.9 770.4,623.1 770.5,623.2 770.6,623.4 770.7,623.6 770.8,623.8 770.9,624.0 770.9,624.2 770.9,624.5 770.9,624.8 770.9,625.0 770.8,625.3 770.7,625.6 770.6,625.9 770.5,626.2 770.4,626.5 770.2,626.8 770.0,627.1 769.8,627.3 769.6,627.6 769.4,627.9 769.2,628.1 769.0,628.3 768.7,628.5 768.5,628.7 768.2,628.9 768.0,629.0 767.7,629.1 767.5,629.2 767.2,629.3 767.0,629.3 766.8,629.4 766.5,629.4 766.3,629.3 766.1,629.3 765.9,629.2 765.8,629.1 743.8,613.1 743.6,612.9 743.5,612.8 743.4,612.6 743.3,612.4 743.2,612.2 743.1,612.0 743.1,611.8" fill="url(#g36)" stroke="#666" stroke-width="0.8"/>
<ellipse cx="768.0" cy="626.0" rx="2.3" ry="3.8" transform="rotate(36.0 768.0 626.0)" fill="url(#g37)" stroke="#666" stroke-width="0.8" />
<polygon points="909.4,634.2 914.3,643.6 913.9,644.3 904.6,643.5 902.1,647.1 903.1,660.0 902.5,660.6 895.6,654.0 892.6,656.3 889.4,670.5 888.8,670.8 885.5,659.7 882.5,660.3 875.6,673.3 875.1,673.3 875.9,659.5 873.5,658.3 864.2,668.0 863.8,667.6 868.7,653.6 867.1,650.8 857.0,655.3 856.8,654.7 864.9,642.8 864.6,639.0 855.4,637.6 855.5,636.9 865.3,629.2 866.2,624.9 859.6,617.9 859.9,617.2 869.8,615.0 871.9,611.0 868.9,599.6 869.3,599.0 877.6,602.7 880.4,599.7 881.6,585.9 882.2,585.4 887.4,594.4 890.5,593.0 895.7,579.0 896.2,578.9 897.5,591.6 900.3,591.9 908.5,580.3 909.0,580.6 906.1,594.8 908.1,596.8 918.0,589.5 918.3,590.1 911.7,603.3 912.7,606.7 922.5,605.0 922.6,605.8 913.4,615.8 913.1,620.0 921.2,624.2 921.0,625.0 910.9,630.0" fill="#5a5a5a" stroke="#555" stroke-width="0.6"/>
<polygon points="855.4,637.6 855.5,636.9 859.6,617.9 859.9,617.1 868.9,599.6 869.3,599.0 881.6,585.9 882.2,585.4 895.7,579.0 896.2,578.9 908.5,580.3 914.5,582.3 915.0,582.6 924.0,591.5 924.3,592.1 928.5,607.0 928.6,607.8 927.2,626.2 927.0,627.0 920.3,645.6 919.9,646.4 909.0,662.0 908.5,662.6 895.4,672.5 894.8,672.8 881.6,675.3 881.1,675.3 875.1,673.3 864.2,668.0 863.8,667.6 857.0,655.4 856.8,654.7" fill="#8a8a8a" stroke="none"/>
<polygon points="908.5,662.6 901.6,656.0 895.6,654.0 902.5,660.6" fill="#8a8a8a" stroke="#555" stroke-width="0.35"/><polygon points="894.8,672.8 891.5,661.7 885.5,659.7 888.8,670.8" fill="#d6d6d6" stroke="#555" stroke-width="0.35"/><polygon points="881.1,675.3 881.9,661.5 875.9,659.5 875.1,673.3" fill="#d6d6d6" stroke="#555" stroke-width="0.35"/><polygon points="881.9,661.5 879.5,660.3 873.5,658.3 875.9,659.5" fill="#5a5a5a" stroke="#555" stroke-width="0.35"/><polygon points="870.2,670.0 869.8,669.6 863.8,667.6 864.2,668.0" fill="#d6d6d6" stroke="#555" stroke-width="0.35"/><polygon points="869.8,669.6 874.7,655.6 868.7,653.6 863.8,667.6" fill="#d6d6d6" stroke="#555" stroke-width="0.35"/><polygon points="874.7,655.6 873.1,652.8 867.1,650.8 868.7,653.6" fill="#5a5a5a" stroke="#555" stroke-width="0.35"/><polygon points="863.0,657.3 862.8,656.7 856.8,654.7 857.0,655.3" fill="#d6d6d6" stroke="#555" stroke-width="0.35"/><polygon points="862.8,656.7 870.9,644.8 864.9,642.8 856.8,654.7" fill="#d6d6d6" stroke="#555" stroke-width="0.35"/><polygon points="870.9,644.8 870.6,641.0 864.6,639.0 864.9,642.8" fill="#5a5a5a" stroke="#555" stroke-width="0.35"/><polygon points="861.4,639.6 861.5,638.9 855.5,636.9 855.4,637.6" fill="#d6d6d6" stroke="#555" stroke-width="0.35"/><polygon points="861.5,638.9 871.3,631.2 865.3,629.2 855.5,636.9" fill="#d6d6d6" stroke="#555" stroke-width="0.35"/><polygon points="871.3,631.2 872.2,626.9 866.2,624.9 865.3,629.2" fill="#5a5a5a" stroke="#555" stroke-width="0.35"/><polygon points="872.2,626.9 865.6,619.9 859.6,617.9 866.2,624.9" fill="#8a8a8a" stroke="#555" stroke-width="0.35"/><polygon points="865.6,619.9 865.9,619.2 859.9,617.2 859.6,617.9" fill="#d6d6d6" stroke="#555" stroke-width="0.35"/><polygon points="865.9,619.2 875.8,617.0 869.8,615.0 859.9,617.2" fill="#d6d6d6" stroke="#555" stroke-width="0.35"/><polygon points="875.8,617.0 877.9,613.0 871.9,611.0 869.8,615.0" fill="#5a5a5a" stroke="#555" stroke-width="0.35"/><polygon points="877.9,613.0 874.9,601.6 868.9,599.6 871.9,611.0" fill="#d6d6d6" stroke="#555" stroke-width="0.35"/><polygon points="874.9,601.6 875.3,601.0 869.3,599.0 868.9,599.6" fill="#d6d6d6" stroke="#555" stroke-width="0.35"/><polygon points="883.6,604.7 886.4,601.7 880.4,599.7 877.6,602.7" fill="#5a5a5a" stroke="#555" stroke-width="0.35"/><polygon points="886.4,601.7 887.6,587.9 881.6,585.9 880.4,599.7" fill="#d6d6d6" stroke="#555" stroke-width="0.35"/><polygon points="887.6,587.9 888.2,587.4 882.2,585.4 881.6,585.9" fill="#d6d6d6" stroke="#555" stroke-width="0.35"/><polygon points="893.4,596.4 896.5,595.0 890.5,593.0 887.4,594.4" fill="#5a5a5a" stroke="#555" stroke-width="0.35"/><polygon points="896.5,595.0 901.7,581.0 895.7,579.0 890.5,593.0" fill="#d6d6d6" stroke="#555" stroke-width="0.35"/><polygon points="901.7,581.0 902.2,580.9 896.2,578.9 895.7,579.0" fill="#d6d6d6" stroke="#555" stroke-width="0.35"/><polygon points="903.5,593.6 906.3,593.9 900.3,591.9 897.5,591.6" fill="#5a5a5a" stroke="#555" stroke-width="0.35"/><polygon points="906.3,593.9 914.5,582.3 908.5,580.3 900.3,591.9" fill="#d6d6d6" stroke="#555" stroke-width="0.35"/><polygon points="914.1,598.8 924.0,591.5 918.0,589.5 908.1,596.8" fill="#d6d6d6" stroke="#555" stroke-width="0.35"/><polygon points="918.7,608.7 928.5,607.0 922.5,605.0 912.7,606.7" fill="#d6d6d6" stroke="#555" stroke-width="0.35"/>
<polygon points="915.4,636.2 920.3,645.6 919.9,646.3 910.6,645.5 908.1,649.1 909.1,662.0 908.5,662.6 901.6,656.0 898.6,658.3 895.4,672.5 894.8,672.8 891.5,661.7 888.5,662.3 881.6,675.3 881.1,675.3 881.9,661.5 879.5,660.3 870.2,670.0 869.8,669.6 874.7,655.6 873.1,652.8 863.0,657.3 862.8,656.7 870.9,644.8 870.6,641.0 861.4,639.6 861.5,638.9 871.3,631.2 872.2,626.9 865.6,619.9 865.9,619.2 875.8,617.0 877.9,613.0 874.9,601.6 875.3,601.0 883.6,604.7 886.4,601.7 887.6,587.9 888.2,587.4 893.4,596.4 896.5,595.0 901.7,581.0 902.2,580.9 903.5,593.6 906.3,593.9 914.5,582.3 915.0,582.6 912.1,596.8 914.1,598.8 924.0,591.5 924.3,592.1 917.7,605.3 918.7,608.7 928.5,607.0 928.6,607.8 919.4,617.8 919.1,622.0 927.2,626.2 927.0,627.0 916.9,632.0" fill="url(#g38)" stroke="#555" stroke-width="0.6"/>
<polygon points="881.8,639.9 881.8,638.0 882.0,635.9 882.3,633.9 882.8,631.7 883.3,629.6 884.1,627.4 884.9,625.2 885.8,623.1 886.9,621.0 888.0,619.0 889.3,617.0 890.6,615.1 892.0,613.3 893.5,611.6 895.0,610.0 896.5,608.6 898.1,607.3 899.7,606.2 901.3,605.3 902.9,604.5 904.5,603.9 906.0,603.5 907.5,603.2 908.9,603.2 910.2,603.3 911.5,603.7 912.7,604.2 942.7,620.2 943.8,620.9 944.8,621.8 945.7,622.8 946.4,624.0 947.0,625.4 947.6,626.9 947.9,628.5 948.2,630.2 948.2,632.1 948.2,634.0 948.0,636.1 947.7,638.1 947.2,640.3 946.7,642.4 945.9,644.6 945.1,646.8 944.2,648.9 943.1,651.0 942.0,653.0 940.7,655.0 939.4,656.9 938.0,658.7 936.5,660.4 935.0,662.0 933.5,663.4 931.9,664.7 930.3,665.8 928.7,666.7 927.1,667.5 925.5,668.1 924.0,668.5 922.5,668.8 921.1,668.8 919.8,668.7 918.5,668.3 917.3,667.8 887.3,651.8 886.2,651.1 885.2,650.2 884.3,649.2 883.6,648.0 883.0,646.6 882.4,645.1 882.1,643.5 881.8,641.8" fill="url(#g39)" stroke="#666" stroke-width="0.8"/>
<ellipse cx="930.0" cy="644.0" rx="14.9" ry="27.0" transform="rotate(28.1 930.0 644.0)" fill="#c4c4c4" stroke="#666" stroke-width="0.8" />
<polygon points="910.9,653.9 910.9,652.1 911.0,650.3 911.3,648.4 911.7,646.5 912.2,644.6 912.8,642.7 913.6,640.8 914.4,638.9 915.4,637.0 916.5,635.2 917.6,633.5 918.9,631.8 920.2,630.2 921.5,628.8 922.9,627.5 924.4,626.2 925.9,625.2 927.3,624.2 928.8,623.4 930.3,622.8 931.8,622.3 933.2,622.0 934.6,621.9 936.0,621.9 937.3,622.1 938.5,622.5 939.7,623.0 966.7,638.0 967.7,638.7 968.7,639.5 969.5,640.5 970.3,641.7 970.9,642.9 971.4,644.3 971.8,645.8 972.0,647.4 972.1,649.1 972.1,650.9 972.0,652.7 971.7,654.6 971.3,656.5 970.8,658.4 970.2,660.3 969.4,662.2 968.6,664.1 967.6,666.0 966.5,667.8 965.4,669.5 964.1,671.2 962.8,672.8 961.5,674.2 960.1,675.5 958.6,676.8 957.1,677.8 955.7,678.8 954.2,679.6 952.7,680.2 951.2,680.7 949.8,681.0 948.4,681.1 947.0,681.1 945.7,680.9 944.5,680.5 943.3,680.0 916.3,665.0 915.3,664.3 914.3,663.5 913.5,662.5 912.7,661.3 912.1,660.1 911.6,658.7 911.2,657.2 911.0,655.6" fill="url(#g40)" stroke="#666" stroke-width="0.8"/>
<ellipse cx="955.0" cy="659.0" rx="14.4" ry="24.0" transform="rotate(29.1 955.0 659.0)" fill="#d8d8d8" stroke="#666" stroke-width="0.8" />
<ellipse cx="956.0" cy="659.0" rx="12.0" ry="19.0" transform="rotate(34.0 956.0 659.0)" fill="#e8e8e8" stroke="#777" stroke-width="0.8" />
<g clip-path="url(#g41)"><ellipse cx="950" cy="657" rx="12" ry="19" transform="rotate(34 950 657)" fill="#bdbdbd"/><line x1="930" y1="624" x2="980" y2="637" stroke="#888" stroke-width="1.2"/><line x1="930" y1="628" x2="980" y2="641" stroke="#888" stroke-width="1.2"/><line x1="930" y1="632" x2="980" y2="645" stroke="#888" stroke-width="1.2"/><line x1="930" y1="636" x2="980" y2="649" stroke="#888" stroke-width="1.2"/><line x1="930" y1="640" x2="980" y2="653" stroke="#888" stroke-width="1.2"/><line x1="930" y1="644" x2="980" y2="657" stroke="#888" stroke-width="1.2"/><line x1="930" y1="648" x2="980" y2="661" stroke="#888" stroke-width="1.2"/><line x1="930" y1="652" x2="980" y2="665" stroke="#888" stroke-width="1.2"/><line x1="930" y1="656" x2="980" y2="669" stroke="#888" stroke-width="1.2"/><line x1="930" y1="660" x2="980" y2="673" stroke="#888" stroke-width="1.2"/><line x1="930" y1="664" x2="980" y2="677" stroke="#888" stroke-width="1.2"/><line x1="930" y1="668" x2="980" y2="681" stroke="#888" stroke-width="1.2"/><line x1="930" y1="672" x2="980" y2="685" stroke="#888" stroke-width="1.2"/><line x1="930" y1="676" x2="980" y2="689" stroke="#888" stroke-width="1.2"/></g>
<polygon points="964.0,724.9 964.1,719.3 964.6,713.6 965.4,707.7 966.6,701.9 968.1,696.0 969.9,690.1 972.1,684.3 974.6,678.7 977.3,673.2 980.3,667.9 983.5,662.8 987.0,658.1 990.6,653.6 994.4,649.5 998.4,645.9 1002.4,642.6 1006.5,639.7 1010.6,637.3 1014.8,635.4 1018.9,634.0 1032.9,630.0 1037.0,629.1 1040.9,628.7 1044.8,628.8 1048.5,629.5 1052.0,630.6 1055.4,632.2 1058.5,634.4 1061.3,637.0 1063.9,640.0 1066.2,643.5 1068.2,647.4 1069.8,651.6 1071.2,656.2 1072.1,661.1 1072.7,666.2 1073.0,671.6 1072.9,677.2 1072.4,682.9 1071.6,688.8 1070.4,694.6 1068.9,700.5 1067.1,706.4 1064.9,712.2 1062.4,717.8 1059.7,723.3 1056.7,728.6 1053.5,733.7 1050.0,738.4 1046.4,742.9 1042.6,747.0 1038.6,750.6 1034.6,753.9 1030.5,756.8 1026.4,759.2 1022.2,761.1 1018.1,762.5 1004.1,766.5 1000.0,767.4 996.1,767.8 992.2,767.7 988.5,767.0 985.0,765.9 981.6,764.3 978.5,762.1 975.7,759.5 973.1,756.5 970.8,753.0 968.8,749.1 967.2,744.9 965.9,740.3 964.9,735.4 964.3,730.2" fill="#828282" stroke="#666" stroke-width="0.8"/>
<ellipse cx="1025.5" cy="696.2" rx="42.5" ry="70.8" transform="rotate(22.0 1025.5 696.2)" fill="#9c9c9c" stroke="#666" stroke-width="0.8" />
<ellipse cx="1030.8" cy="701.5" rx="33.1" ry="46.1" transform="rotate(22.0 1030.8 701.5)" fill="#b4b4b4" stroke="#666" stroke-width="0.8" />
<g clip-path="url(#g42)"><ellipse cx="1022.8" cy="699.5" rx="33.1" ry="46.1" transform="rotate(22 1022.8 699.5)" fill="#fff"/></g>
<ellipse cx="1025.5" cy="696.2" rx="35.3" ry="60.9" transform="rotate(22.0 1025.5 696.2)" fill="none" stroke="#8e8e8e" stroke-width="1.2" />
<polygon points="1001.0,641.8 1002.9,640.4 1004.9,639.0 1006.9,637.8 1008.9,636.6 1010.9,635.6 1012.9,634.7 1026.8,630.7 1027.7,635.6 1017.0,642.4 1003.0,646.4" fill="#fff" stroke="none"/>
<polyline points="1017.0,642.4 1018.8,641.0 1020.5,639.7 1022.3,638.6 1024.1,637.5 1025.9,636.5 1027.7,635.6" fill="none" stroke="#666" stroke-width="0.8"/>
<polygon points="962.5,722.9 962.6,720.6 962.7,718.3 962.9,716.0 963.1,713.6 977.1,709.6 982.1,709.4 981.5,722.1 967.5,726.1 962.6,727.4 962.5,725.2" fill="#fff" stroke="none"/>
<polyline points="981.4,722.1 981.4,720.1 981.4,718.0 981.5,715.9 981.7,713.7 981.8,711.6 982.1,709.4" fill="none" stroke="#666" stroke-width="0.8"/>
<circle cx="1036.3" cy="633.9" r="2" fill="#b4b4b4" stroke="none"/>
<circle cx="1053.2" cy="636.7" r="2" fill="#b4b4b4" stroke="none"/>
<circle cx="1065.0" cy="650.7" r="2" fill="#b4b4b4" stroke="none"/>
<circle cx="1051.1" cy="730.9" r="2" fill="#b4b4b4" stroke="none"/>
<circle cx="1033.7" cy="749.8" r="2" fill="#b4b4b4" stroke="none"/>
<circle cx="989.9" cy="748.6" r="2" fill="#b4b4b4" stroke="none"/>
<circle cx="983.3" cy="733.6" r="2" fill="#b4b4b4" stroke="none"/>
<circle cx="985.5" cy="692.4" r="2" fill="#b4b4b4" stroke="none"/>
<circle cx="996.9" cy="666.3" r="2" fill="#b4b4b4" stroke="none"/>
<polygon points="1058.7,756.1 1058.8,751.9 1059.1,747.7 1059.7,743.5 1060.5,739.2 1061.7,735.0 1063.1,730.8 1064.7,726.7 1066.5,722.7 1068.6,718.9 1070.9,715.3 1073.3,711.8 1076.0,708.6 1078.7,705.7 1081.6,703.0 1084.6,700.7 1087.7,698.6 1090.8,696.9 1094.0,695.5 1097.2,694.5 1100.3,693.9 1103.4,693.6 1106.5,693.7 1109.5,694.2 1122.1,697.3 1124.9,698.1 1127.6,699.4 1130.2,700.9 1132.6,702.8 1134.8,705.0 1136.8,707.5 1138.6,710.3 1140.1,713.4 1141.4,716.7 1142.5,720.3 1143.2,724.0 1143.8,727.9 1144.0,731.9 1143.9,736.1 1143.6,740.3 1143.0,744.5 1142.2,748.8 1141.0,753.0 1139.6,757.2 1138.0,761.3 1136.2,765.3 1134.1,769.1 1131.8,772.7 1129.3,776.2 1126.7,779.4 1124.0,782.3 1121.1,785.0 1118.1,787.3 1115.0,789.4 1111.9,791.1 1108.7,792.5 1105.5,793.5 1102.4,794.1 1099.3,794.4 1096.2,794.3 1093.2,793.8 1080.6,790.7 1077.8,789.9 1075.1,788.6 1072.5,787.1 1070.1,785.2 1067.9,783.0 1065.9,780.5 1064.1,777.7 1062.6,774.6 1061.3,771.3 1060.2,767.7 1059.5,764.0 1058.9,760.1" fill="url(#g43)" stroke="#6a6a6a" stroke-width="0.8"/>
<ellipse cx="1107.7" cy="745.6" rx="34.0" ry="50.5" transform="rotate(20.0 1107.7 745.6)" fill="url(#g44)" stroke="#6a6a6a" stroke-width="0.8" />
<ellipse cx="1107.7" cy="745.6" rx="28.6" ry="43.4" transform="rotate(20.0 1107.7 745.6)" fill="none" stroke="#8a8a8a" stroke-width="1.2" />
<ellipse cx="1106.7" cy="745.6" rx="25.2" ry="38.4" transform="rotate(20.0 1106.7 745.6)" fill="none" stroke="#7a7a7a" stroke-width="2.4" stroke-dasharray="1.6 2.4"/>
<ellipse cx="1104.7" cy="745.6" rx="21.1" ry="32.3" transform="rotate(20.0 1104.7 745.6)" fill="url(#g46)" stroke="#666" stroke-width="0.8" />
<g clip-path="url(#g45)"><ellipse cx="1095.3" cy="742.2" rx="21.1" ry="32.3" transform="rotate(20.0 1095.3 742.2)" fill="#fff"/></g>
<polygon points="1117.0,762.9 1117.1,762.5 1117.1,762.1 1117.2,761.7 1117.3,761.3 1117.4,760.9 1117.5,760.5 1117.7,760.1 1117.8,759.7 1118.0,759.3 1118.2,758.9 1118.4,758.5 1118.7,758.2 1118.9,757.9 1119.2,757.6 1119.4,757.3 1119.7,757.1 1119.9,756.9 1120.2,756.7 1120.4,756.5 1120.7,756.4 1120.9,756.3 1121.2,756.3 1121.4,756.3 1121.6,756.3 1121.8,756.4 1202.8,788.4 1203.0,788.5 1203.2,788.6 1203.4,788.8 1203.5,788.9 1203.7,789.2 1203.8,789.4 1203.8,789.7 1203.9,790.0 1203.9,790.4 1204.0,790.7 1204.0,791.1 1203.9,791.5 1203.9,791.9 1203.8,792.3 1203.7,792.7 1203.6,793.1 1203.5,793.5 1203.3,793.9 1203.2,794.3 1203.0,794.7 1202.8,795.1 1202.6,795.5 1202.3,795.8 1202.1,796.1 1201.8,796.4 1201.6,796.7 1201.3,796.9 1201.1,797.1 1200.8,797.3 1200.6,797.5 1200.3,797.6 1200.1,797.7 1199.8,797.7 1199.6,797.7 1199.4,797.7 1199.2,797.6 1118.2,765.6 1118.0,765.5 1117.8,765.4 1117.6,765.2 1117.5,765.1 1117.3,764.8 1117.2,764.6 1117.2,764.3 1117.1,764.0 1117.1,763.6 1117.0,763.3" fill="url(#g47)" stroke="#666" stroke-width="0.8"/>
<ellipse cx="1201.0" cy="793.0" rx="2.5" ry="5.0" transform="rotate(21.6 1201.0 793.0)" fill="url(#g48)" stroke="#666" stroke-width="0.8" />
<polygon points="1184.8,801.2 1242,771 1243,806 1185.7,837" fill="#8e8e8e" stroke="#555" stroke-width="0.8"/>
<polygon points="1210,799 1219,795 1227,800 1227,810 1218,815 1210,811" fill="#b8b8b8" stroke="#555" stroke-width="0.8"/>
<polygon points="1210,799 1219,795 1227,800 1219,804" fill="#d0d0d0" stroke="none"/>
<polygon points="107.6,496.1 107.6,495.1 107.7,494.0 107.8,492.9 108.1,491.8 108.4,490.7 108.8,489.6 109.2,488.5 109.7,487.4 110.3,486.3 110.9,485.2 111.6,484.2 112.3,483.3 113.1,482.4 113.9,481.5 114.7,480.7 115.5,480.0 116.4,479.4 117.3,478.9 118.2,478.4 119.0,478.0 119.9,477.8 120.7,477.6 121.5,477.5 122.3,477.6 123.1,477.7 123.8,477.9 124.5,478.2 143.6,489.0 144.2,489.4 144.8,489.9 145.3,490.5 145.7,491.1 146.1,491.9 146.4,492.7 146.6,493.5 146.7,494.5 146.8,495.5 146.8,496.5 146.7,497.6 146.6,498.6 146.3,499.8 146.0,500.9 145.6,502.0 145.2,503.1 144.7,504.2 144.1,505.3 143.5,506.3 142.8,507.4 142.1,508.3 141.3,509.2 140.5,510.1 139.7,510.9 138.8,511.6 138.0,512.2 137.1,512.7 136.2,513.2 135.4,513.5 134.5,513.8 133.7,514.0 132.8,514.1 132.1,514.0 131.3,513.9 130.6,513.7 129.9,513.4 110.7,502.6 110.1,502.2 109.6,501.7 109.1,501.1 108.7,500.5 108.3,499.7 108.0,498.9 107.8,498.0 107.6,497.1" fill="url(#g49)" stroke="#666" stroke-width="0.8"/>
<ellipse cx="117.6" cy="490.4" rx="8.5" ry="14.0" transform="rotate(29.3 117.6 490.4)" fill="#d0d0d0" stroke="#666" stroke-width="0.8" />
<circle cx="115.6" cy="486.4" r="1.5" fill="#444"/>
<polygon points="114.8,505.8 114.8,504.3 114.9,502.7 115.2,501.1 115.5,499.4 116.0,497.7 116.5,496.0 117.2,494.4 118.0,492.7 118.8,491.1 119.8,489.5 120.8,488.0 121.9,486.6 123.0,485.2 124.2,483.9 125.4,482.8 126.7,481.7 128.0,480.8 129.3,479.9 130.6,479.3 131.9,478.7 133.2,478.3 134.5,478.1 135.7,477.9 136.9,478.0 138.0,478.2 139.1,478.5 140.1,478.9 202.0,513.7 202.9,514.4 203.8,515.1 204.5,516.0 205.1,517.0 205.7,518.1 206.1,519.3 206.4,520.6 206.7,522.0 206.8,523.5 206.8,525.0 206.6,526.6 206.4,528.2 206.0,529.9 205.6,531.6 205.0,533.3 204.3,535.0 203.6,536.6 202.7,538.2 201.8,539.8 200.8,541.3 199.7,542.8 198.5,544.1 197.3,545.4 196.1,546.5 194.8,547.6 193.5,548.5 192.2,549.4 190.9,550.0 189.6,550.6 188.3,551.0 187.0,551.2 185.8,551.4 184.6,551.3 183.5,551.1 182.4,550.8 181.4,550.4 119.5,515.6 118.6,515.0 117.8,514.2 117.0,513.4 116.4,512.4 115.8,511.2 115.4,510.0 115.1,508.7 114.9,507.3" fill="url(#g50)" stroke="#666" stroke-width="0.8"/>
<g clip-path="url(#g51)"><line x1="120.6" y1="470.7" x2="200.9" y2="515.8" stroke="#7a7a7a" stroke-width="1.1"/><line x1="119.9" y1="472.1" x2="200.1" y2="517.2" stroke="#eeeeee" stroke-width="0.9"/><line x1="118.4" y1="474.8" x2="198.6" y2="519.8" stroke="#7a7a7a" stroke-width="1.1"/><line x1="117.6" y1="476.2" x2="197.8" y2="521.2" stroke="#eeeeee" stroke-width="0.9"/><line x1="116.1" y1="478.8" x2="196.3" y2="523.9" stroke="#7a7a7a" stroke-width="1.1"/><line x1="115.3" y1="480.2" x2="195.5" y2="525.3" stroke="#eeeeee" stroke-width="0.9"/><line x1="113.8" y1="482.9" x2="194.0" y2="528.0" stroke="#7a7a7a" stroke-width="1.1"/><line x1="113.0" y1="484.3" x2="193.2" y2="529.4" stroke="#eeeeee" stroke-width="0.9"/><line x1="111.5" y1="487.0" x2="191.7" y2="532.0" stroke="#7a7a7a" stroke-width="1.1"/><line x1="110.7" y1="488.4" x2="190.9" y2="533.4" stroke="#eeeeee" stroke-width="0.9"/><line x1="109.2" y1="491.0" x2="189.4" y2="536.1" stroke="#7a7a7a" stroke-width="1.1"/><line x1="108.4" y1="492.4" x2="188.7" y2="537.5" stroke="#eeeeee" stroke-width="0.9"/><line x1="106.9" y1="495.1" x2="187.1" y2="540.2" stroke="#7a7a7a" stroke-width="1.1"/><line x1="106.1" y1="496.5" x2="186.4" y2="541.6" stroke="#eeeeee" stroke-width="0.9"/><line x1="104.6" y1="499.2" x2="184.9" y2="544.3" stroke="#7a7a7a" stroke-width="1.1"/><line x1="103.9" y1="500.6" x2="184.1" y2="545.6" stroke="#eeeeee" stroke-width="0.9"/><line x1="102.4" y1="503.2" x2="182.6" y2="548.3" stroke="#7a7a7a" stroke-width="1.1"/><line x1="101.6" y1="504.6" x2="181.8" y2="549.7" stroke="#eeeeee" stroke-width="0.9"/></g>
<ellipse cx="191.7" cy="532.0" rx="12.6" ry="21.0" transform="rotate(29.3 191.7 532.0)" fill="#c8c8c8" stroke="#666" stroke-width="0.8" />
<polygon points="200.1,536.7 200.8,538.5 199.5,540.6 197.7,540.6 196.0,542.9 196.2,545.1 194.7,546.9 193.2,546.3 191.2,548.3 190.9,550.7 189.3,552.1 188.1,550.9 186.0,552.4 185.3,554.9 183.5,555.9 182.7,554.2 180.6,555.1 179.5,557.5 177.8,558.0 177.5,555.9 175.4,556.1 174.0,558.4 172.4,558.4 172.6,556.0 170.8,555.6 169.0,557.6 167.7,557.0 168.3,554.4 166.9,553.4 164.9,554.9 163.9,553.8 165.0,551.3 163.9,549.7 162.0,550.7 161.3,549.2 162.7,546.8 162.2,544.7 160.3,545.2 160.0,543.3 161.7,541.2 161.7,538.8 159.9,538.6 160.1,536.5 162.0,534.8 162.5,532.1 161.0,531.4 161.6,529.2 163.5,528.0 164.5,525.3 163.4,524.0 164.3,521.8 166.3,521.2 167.7,518.5 167.0,516.8 168.2,514.7 170.0,514.7 171.8,512.3 171.5,510.2 173.0,508.4 174.6,509.0 176.6,507.0 176.8,504.6 178.5,503.2 179.7,504.4 181.8,502.9 182.5,500.4 184.2,499.4 185.0,501.1 187.1,500.2 188.3,497.7 190.0,497.3 190.3,499.4 192.3,499.1 193.8,496.8 195.3,496.9 195.2,499.3 197.0,499.7 198.7,497.7 200.0,498.3 199.4,500.8 200.9,501.9 202.8,500.3 203.8,501.4 202.8,503.9 203.8,505.6 205.8,504.6 206.4,506.1 205.0,508.4 205.6,510.6 207.5,510.1 207.7,512.0 206.0,514.0 206.1,516.5 207.8,516.7 207.6,518.8 205.8,520.4 205.3,523.1 206.8,523.9 206.2,526.1 204.2,527.3 203.3,530.0 204.4,531.3 203.4,533.5 201.5,534.1" fill="#707070" stroke="#555" stroke-width="0.6"/>
<polygon points="159.9,538.6 160.1,536.5 161.0,531.4 161.6,529.2 163.4,524.0 164.3,521.8 167.0,516.8 168.2,514.7 171.5,510.2 173.0,508.4 176.8,504.6 178.5,503.2 182.5,500.4 184.2,499.4 188.3,497.7 190.0,497.3 193.8,496.8 195.3,496.9 198.7,497.7 200.0,498.3 227.9,514.0 230.7,516.0 231.7,517.1 233.7,520.2 234.3,521.8 235.4,525.8 235.6,527.7 235.7,532.4 235.5,534.5 234.7,539.6 234.1,541.8 232.3,547.0 231.3,549.2 228.7,554.2 227.4,556.3 224.1,560.8 222.6,562.6 218.8,566.4 217.2,567.8 213.2,570.6 211.4,571.5 207.4,573.2 205.7,573.7 201.9,574.1 200.3,574.0 196.9,573.2 195.6,572.6 167.7,557.0 164.9,554.9 163.9,553.8 162.0,550.7 161.3,549.2 160.3,545.2 160.0,543.3" fill="#a0a0a0" stroke="none"/>
<polygon points="217.2,567.8 216.0,566.6 188.1,550.9 189.3,552.1" fill="#a0a0a0" stroke="#555" stroke-width="0.35"/><polygon points="211.4,571.5 210.6,569.9 182.7,554.2 183.5,555.9" fill="#a0a0a0" stroke="#555" stroke-width="0.35"/><polygon points="205.7,573.7 205.4,571.6 177.5,555.9 177.8,558.0" fill="#dedede" stroke="#555" stroke-width="0.35"/><polygon points="200.3,574.0 200.5,571.7 172.6,556.0 172.4,558.4" fill="#dedede" stroke="#555" stroke-width="0.35"/><polygon points="195.6,572.6 196.2,570.1 168.3,554.4 167.7,557.0" fill="#dedede" stroke="#555" stroke-width="0.35"/><polygon points="196.2,570.1 194.8,569.1 166.9,553.4 168.3,554.4" fill="#707070" stroke="#555" stroke-width="0.35"/><polygon points="192.9,570.6 191.8,569.5 163.9,553.8 164.9,554.9" fill="#dedede" stroke="#555" stroke-width="0.35"/><polygon points="191.8,569.5 192.9,567.0 165.0,551.3 163.9,553.8" fill="#dedede" stroke="#555" stroke-width="0.35"/><polygon points="192.9,567.0 191.8,565.4 163.9,549.7 165.0,551.3" fill="#707070" stroke="#555" stroke-width="0.35"/><polygon points="189.9,566.4 189.2,564.9 161.3,549.2 162.0,550.7" fill="#dedede" stroke="#555" stroke-width="0.35"/><polygon points="189.2,564.9 190.6,562.5 162.7,546.8 161.3,549.2" fill="#dedede" stroke="#555" stroke-width="0.35"/><polygon points="190.6,562.5 190.1,560.4 162.2,544.7 162.7,546.8" fill="#707070" stroke="#555" stroke-width="0.35"/><polygon points="188.2,560.9 187.9,559.0 160.0,543.3 160.3,545.2" fill="#dedede" stroke="#555" stroke-width="0.35"/><polygon points="187.9,559.0 189.6,556.9 161.7,541.2 160.0,543.3" fill="#dedede" stroke="#555" stroke-width="0.35"/><polygon points="189.6,556.9 189.6,554.4 161.7,538.8 161.7,541.2" fill="#707070" stroke="#555" stroke-width="0.35"/><polygon points="187.8,554.3 188.0,552.2 160.1,536.5 159.9,538.6" fill="#dedede" stroke="#555" stroke-width="0.35"/><polygon points="188.0,552.2 189.9,550.5 162.0,534.8 160.1,536.5" fill="#dedede" stroke="#555" stroke-width="0.35"/><polygon points="189.9,550.5 190.4,547.8 162.5,532.1 162.0,534.8" fill="#707070" stroke="#555" stroke-width="0.35"/><polygon points="188.9,547.1 189.5,544.9 161.6,529.2 161.0,531.4" fill="#dedede" stroke="#555" stroke-width="0.35"/><polygon points="189.5,544.9 191.4,543.7 163.5,528.0 161.6,529.2" fill="#dedede" stroke="#555" stroke-width="0.35"/><polygon points="191.4,543.7 192.4,541.0 164.5,525.3 163.5,528.0" fill="#707070" stroke="#555" stroke-width="0.35"/><polygon points="192.4,541.0 191.3,539.7 163.4,524.0 164.5,525.3" fill="#a0a0a0" stroke="#555" stroke-width="0.35"/><polygon points="191.3,539.7 192.2,537.4 164.3,521.8 163.4,524.0" fill="#dedede" stroke="#555" stroke-width="0.35"/><polygon points="192.2,537.4 194.2,536.9 166.3,521.2 164.3,521.8" fill="#dedede" stroke="#555" stroke-width="0.35"/><polygon points="194.2,536.9 195.6,534.2 167.7,518.5 166.3,521.2" fill="#707070" stroke="#555" stroke-width="0.35"/><polygon points="195.6,534.2 194.9,532.4 167.0,516.8 167.7,518.5" fill="#a0a0a0" stroke="#555" stroke-width="0.35"/><polygon points="194.9,532.4 196.1,530.4 168.2,514.7 167.0,516.8" fill="#dedede" stroke="#555" stroke-width="0.35"/><polygon points="196.1,530.4 197.9,530.4 170.0,514.7 168.2,514.7" fill="#dedede" stroke="#555" stroke-width="0.35"/><polygon points="197.9,530.4 199.7,528.0 171.8,512.3 170.0,514.7" fill="#707070" stroke="#555" stroke-width="0.35"/><polygon points="199.7,528.0 199.4,525.9 171.5,510.2 171.8,512.3" fill="#dedede" stroke="#555" stroke-width="0.35"/><polygon points="199.4,525.9 200.9,524.1 173.0,508.4 171.5,510.2" fill="#dedede" stroke="#555" stroke-width="0.35"/><polygon points="200.9,524.1 202.5,524.7 174.6,509.0 173.0,508.4" fill="#dedede" stroke="#555" stroke-width="0.35"/><polygon points="202.5,524.7 204.5,522.7 176.6,507.0 174.6,509.0" fill="#707070" stroke="#555" stroke-width="0.35"/><polygon points="204.5,522.7 204.7,520.3 176.8,504.6 176.6,507.0" fill="#dedede" stroke="#555" stroke-width="0.35"/><polygon points="204.7,520.3 206.4,518.9 178.5,503.2 176.8,504.6" fill="#dedede" stroke="#555" stroke-width="0.35"/><polygon points="207.6,520.1 209.7,518.6 181.8,502.9 179.7,504.4" fill="#707070" stroke="#555" stroke-width="0.35"/><polygon points="209.7,518.6 210.4,516.1 182.5,500.4 181.8,502.9" fill="#dedede" stroke="#555" stroke-width="0.35"/><polygon points="210.4,516.1 212.1,515.1 184.2,499.4 182.5,500.4" fill="#dedede" stroke="#555" stroke-width="0.35"/><polygon points="212.9,516.8 215.0,515.9 187.1,500.2 185.0,501.1" fill="#707070" stroke="#555" stroke-width="0.35"/><polygon points="215.0,515.9 216.2,513.4 188.3,497.7 187.1,500.2" fill="#dedede" stroke="#555" stroke-width="0.35"/><polygon points="216.2,513.4 217.9,513.0 190.0,497.3 188.3,497.7" fill="#dedede" stroke="#555" stroke-width="0.35"/><polygon points="218.2,515.1 220.2,514.8 192.3,499.1 190.3,499.4" fill="#707070" stroke="#555" stroke-width="0.35"/><polygon points="220.2,514.8 221.7,512.5 193.8,496.8 192.3,499.1" fill="#dedede" stroke="#555" stroke-width="0.35"/><polygon points="221.7,512.5 223.2,512.6 195.3,496.9 193.8,496.8" fill="#dedede" stroke="#555" stroke-width="0.35"/><polygon points="223.1,515.0 224.9,515.4 197.0,499.7 195.2,499.3" fill="#707070" stroke="#555" stroke-width="0.35"/><polygon points="224.9,515.4 226.6,513.4 198.7,497.7 197.0,499.7" fill="#dedede" stroke="#555" stroke-width="0.35"/><polygon points="226.6,513.4 227.9,514.0 200.0,498.3 198.7,497.7" fill="#dedede" stroke="#555" stroke-width="0.35"/><polygon points="228.8,517.6 230.7,516.0 202.8,500.3 200.9,501.9" fill="#dedede" stroke="#555" stroke-width="0.35"/><polygon points="231.7,521.3 233.7,520.2 205.8,504.6 203.8,505.6" fill="#dedede" stroke="#555" stroke-width="0.35"/><polygon points="233.5,526.2 235.4,525.8 207.5,510.1 205.6,510.6" fill="#dedede" stroke="#555" stroke-width="0.35"/><polygon points="234.0,532.2 235.7,532.4 207.8,516.7 206.1,516.5" fill="#dedede" stroke="#555" stroke-width="0.35"/><polygon points="233.2,538.8 234.7,539.6 206.8,523.9 205.3,523.1" fill="#dedede" stroke="#555" stroke-width="0.35"/>
<polygon points="228.0,552.4 228.7,554.2 227.4,556.3 225.6,556.2 223.9,558.6 224.1,560.8 222.6,562.6 221.1,561.9 219.1,563.9 218.8,566.3 217.2,567.8 216.0,566.6 213.9,568.1 213.2,570.6 211.4,571.5 210.6,569.9 208.5,570.7 207.4,573.2 205.7,573.7 205.4,571.6 203.3,571.8 201.9,574.1 200.3,574.0 200.5,571.7 198.7,571.3 196.9,573.2 195.6,572.6 196.2,570.1 194.8,569.1 192.9,570.6 191.8,569.5 192.9,567.0 191.8,565.4 189.9,566.4 189.2,564.9 190.6,562.5 190.1,560.4 188.2,560.9 187.9,559.0 189.6,556.9 189.6,554.4 187.8,554.3 188.0,552.2 189.9,550.5 190.4,547.8 188.9,547.1 189.5,544.9 191.4,543.7 192.4,541.0 191.3,539.7 192.2,537.4 194.2,536.9 195.6,534.2 194.9,532.4 196.1,530.4 197.9,530.4 199.7,528.0 199.4,525.9 200.9,524.1 202.5,524.7 204.5,522.7 204.7,520.3 206.4,518.9 207.6,520.1 209.7,518.6 210.4,516.1 212.1,515.1 212.9,516.8 215.0,515.9 216.2,513.4 217.9,513.0 218.2,515.1 220.2,514.8 221.7,512.5 223.2,512.6 223.1,515.0 224.9,515.4 226.6,513.4 227.9,514.0 227.3,516.5 228.8,517.6 230.7,516.0 231.7,517.1 230.7,519.6 231.7,521.3 233.7,520.2 234.3,521.8 232.9,524.1 233.5,526.2 235.4,525.8 235.6,527.7 233.9,529.7 234.0,532.2 235.7,532.4 235.5,534.5 233.7,536.1 233.2,538.8 234.7,539.6 234.1,541.8 232.1,542.9 231.2,545.7 232.3,547.0 231.3,549.2 229.4,549.8" fill="#bdbdbd" stroke="#555" stroke-width="0.6"/>
<polygon points="185.5,550.4 185.5,548.5 185.6,546.4 186.0,544.3 186.4,542.2 187.0,540.0 187.7,537.8 188.6,535.7 189.6,533.5 190.7,531.5 191.9,529.4 193.2,527.5 194.6,525.6 196.1,523.9 197.6,522.3 199.2,520.8 200.8,519.4 202.5,518.2 204.2,517.1 205.8,516.3 207.5,515.6 209.2,515.0 210.8,514.7 212.4,514.6 213.9,514.6 215.4,514.8 216.8,515.3 218.0,515.9 240.7,528.6 241.9,529.4 242.9,530.3 243.9,531.5 244.7,532.7 245.4,534.2 246.0,535.7 246.4,537.4 246.7,539.2 246.8,541.1 246.8,543.1 246.6,545.1 246.3,547.2 245.9,549.4 245.3,551.5 244.5,553.7 243.7,555.9 242.7,558.0 241.6,560.1 240.4,562.1 239.1,564.0 237.7,565.9 236.2,567.6 234.7,569.3 233.1,570.8 231.4,572.1 229.8,573.4 228.1,574.4 226.4,575.3 224.7,576.0 223.1,576.5 221.4,576.8 219.9,577.0 218.3,576.9 216.9,576.7 215.5,576.3 214.2,575.7 191.6,562.9 190.4,562.2 189.3,561.2 188.4,560.1 187.5,558.8 186.8,557.4 186.3,555.8 185.9,554.1 185.6,552.3" fill="url(#g52)" stroke="#666" stroke-width="0.8"/>
<ellipse cx="227.5" cy="552.1" rx="16.2" ry="27.0" transform="rotate(29.3 227.5 552.1)" fill="#cfcfcf" stroke="#666" stroke-width="0.8" />
<polygon points="210.0,560.1 210.0,558.5 210.1,556.9 210.4,555.1 210.7,553.4 211.2,551.6 211.8,549.9 212.5,548.1 213.3,546.4 214.2,544.7 215.2,543.0 216.3,541.5 217.4,540.0 218.6,538.5 219.8,537.2 221.2,536.0 222.5,534.9 223.8,533.9 225.2,533.0 226.6,532.3 228.0,531.7 229.3,531.3 230.6,531.0 231.9,530.9 233.2,531.0 234.3,531.1 235.5,531.5 236.5,532.0 298.4,566.8 299.4,567.4 300.2,568.2 301.0,569.1 301.7,570.1 302.3,571.3 302.7,572.6 303.1,574.0 303.3,575.4 303.4,577.0 303.4,578.6 303.2,580.2 303.0,582.0 302.6,583.7 302.1,585.5 301.5,587.2 300.8,589.0 300.0,590.7 299.1,592.4 298.2,594.1 297.1,595.6 296.0,597.2 294.8,598.6 293.5,599.9 292.2,601.1 290.9,602.2 289.5,603.2 288.2,604.1 286.8,604.8 285.4,605.4 284.1,605.8 282.7,606.1 281.4,606.2 280.2,606.1 279.0,606.0 277.9,605.6 276.9,605.1 214.9,570.3 214.0,569.7 213.1,568.9 212.3,568.0 211.7,567.0 211.1,565.8 210.6,564.5 210.3,563.2 210.1,561.7" fill="url(#g53)" stroke="#666" stroke-width="0.8"/>
<g clip-path="url(#g54)"><line x1="216.1" y1="523.3" x2="297.2" y2="568.9" stroke="#7a7a7a" stroke-width="1.1"/><line x1="215.3" y1="524.7" x2="296.4" y2="570.3" stroke="#eeeeee" stroke-width="0.9"/><line x1="213.7" y1="527.6" x2="294.8" y2="573.2" stroke="#7a7a7a" stroke-width="1.1"/><line x1="212.9" y1="529.0" x2="294.0" y2="574.6" stroke="#eeeeee" stroke-width="0.9"/><line x1="211.3" y1="531.9" x2="292.4" y2="577.4" stroke="#7a7a7a" stroke-width="1.1"/><line x1="210.6" y1="533.3" x2="291.6" y2="578.8" stroke="#eeeeee" stroke-width="0.9"/><line x1="208.9" y1="536.1" x2="290.0" y2="581.7" stroke="#7a7a7a" stroke-width="1.1"/><line x1="208.2" y1="537.5" x2="289.3" y2="583.1" stroke="#eeeeee" stroke-width="0.9"/><line x1="206.5" y1="540.4" x2="287.6" y2="585.9" stroke="#7a7a7a" stroke-width="1.1"/><line x1="205.8" y1="541.8" x2="286.9" y2="587.3" stroke="#eeeeee" stroke-width="0.9"/><line x1="204.2" y1="544.6" x2="285.2" y2="590.2" stroke="#7a7a7a" stroke-width="1.1"/><line x1="203.4" y1="546.0" x2="284.5" y2="591.6" stroke="#eeeeee" stroke-width="0.9"/><line x1="201.8" y1="548.9" x2="282.9" y2="594.5" stroke="#7a7a7a" stroke-width="1.1"/><line x1="201.0" y1="550.3" x2="282.1" y2="595.9" stroke="#eeeeee" stroke-width="0.9"/><line x1="199.4" y1="553.2" x2="280.5" y2="598.7" stroke="#7a7a7a" stroke-width="1.1"/><line x1="198.6" y1="554.6" x2="279.7" y2="600.1" stroke="#eeeeee" stroke-width="0.9"/><line x1="197.0" y1="557.4" x2="278.1" y2="603.0" stroke="#7a7a7a" stroke-width="1.1"/><line x1="196.2" y1="558.8" x2="277.3" y2="604.4" stroke="#eeeeee" stroke-width="0.9"/></g>
<ellipse cx="287.6" cy="585.9" rx="13.2" ry="22.0" transform="rotate(29.3 287.6 585.9)" fill="#c8c8c8" stroke="#666" stroke-width="0.8" />
<polygon points="270.9,589.1 271.0,587.8 271.2,586.4 271.4,585.1 271.8,583.7 272.2,582.4 272.8,581.0 273.4,579.6 274.1,578.3 274.9,577.1 275.7,575.8 276.6,574.7 277.5,573.6 278.5,572.6 279.5,571.6 280.5,570.8 281.6,570.0 282.7,569.4 283.8,568.8 284.8,568.4 285.9,568.1 286.9,567.9 288.0,567.8 288.9,567.9 289.9,568.0 290.8,568.3 291.6,568.7 326.5,588.3 327.3,588.8 328.0,589.4 328.6,590.1 329.1,590.9 329.6,591.9 330.0,592.9 330.2,593.9 330.4,595.1 330.6,596.3 330.6,597.5 330.5,598.8 330.3,600.2 330.0,601.5 329.6,602.9 329.2,604.2 328.7,605.6 328.0,607.0 327.4,608.3 326.6,609.5 325.8,610.8 324.9,611.9 323.9,613.0 323.0,614.0 321.9,615.0 320.9,615.8 319.9,616.6 318.8,617.2 317.7,617.8 316.6,618.2 315.5,618.5 314.5,618.7 313.5,618.8 312.5,618.8 311.6,618.6 310.7,618.3 309.8,617.9 274.9,598.3 274.2,597.8 273.5,597.2 272.9,596.5 272.3,595.7 271.9,594.8 271.5,593.8 271.2,592.7 271.0,591.5 270.9,590.3" fill="url(#g55)" stroke="#666" stroke-width="0.8"/>
<ellipse cx="318.2" cy="603.1" rx="10.5" ry="17.0" transform="rotate(29.3 318.2 603.1)" fill="#9a9a9a" stroke="#666" stroke-width="0.8" />
<ellipse cx="318.2" cy="603.1" rx="4.0" ry="4.5" transform="rotate(29.3 318.2 603.1)" fill="#fff" stroke="#555" stroke-width="0.8" />
<polygon points="841.4,253.2 841.5,252.0 841.6,250.8 841.9,249.5 842.2,248.2 842.5,246.9 843.0,245.7 843.5,244.4 844.1,243.1 844.8,241.9 845.5,240.7 846.2,239.5 847.0,238.4 847.8,237.4 848.7,236.4 849.6,235.6 850.5,234.8 851.4,234.1 852.4,233.5 853.3,233.0 854.2,232.6 855.1,232.3 856.0,232.2 856.8,232.1 857.6,232.2 858.4,232.4 859.1,232.7 932.1,268.6 932.7,269.0 933.3,269.5 933.9,270.1 934.4,270.9 934.8,271.6 935.1,272.5 935.3,273.5 935.5,274.5 935.6,275.6 935.6,276.8 935.5,278.0 935.4,279.2 935.1,280.5 934.8,281.8 934.5,283.1 934.0,284.3 933.5,285.6 932.9,286.9 932.2,288.1 931.5,289.3 930.8,290.5 930.0,291.6 929.2,292.6 928.3,293.6 927.4,294.4 926.5,295.2 925.6,295.9 924.6,296.5 923.7,297.0 922.8,297.4 921.9,297.6 921.0,297.8 920.2,297.9 919.4,297.8 918.6,297.6 917.9,297.4 844.9,261.4 844.3,261.0 843.7,260.5 843.1,259.9 842.6,259.1 842.2,258.4 841.9,257.5 841.7,256.5 841.5,255.5 841.4,254.4" fill="url(#g56)" stroke="#666" stroke-width="0.8"/>
<g clip-path="url(#g57)"><line x1="843.8" y1="227.4" x2="931.2" y2="270.4" stroke="#7a7a7a" stroke-width="1.1"/><line x1="843.1" y1="228.8" x2="930.5" y2="271.9" stroke="#eeeeee" stroke-width="0.9"/><line x1="842.1" y1="231.0" x2="929.4" y2="274.0" stroke="#7a7a7a" stroke-width="1.1"/><line x1="841.4" y1="232.4" x2="928.7" y2="275.5" stroke="#eeeeee" stroke-width="0.9"/><line x1="840.3" y1="234.5" x2="927.7" y2="277.6" stroke="#7a7a7a" stroke-width="1.1"/><line x1="839.6" y1="236.0" x2="926.9" y2="279.1" stroke="#eeeeee" stroke-width="0.9"/><line x1="838.5" y1="238.1" x2="925.9" y2="281.2" stroke="#7a7a7a" stroke-width="1.1"/><line x1="837.8" y1="239.6" x2="925.2" y2="282.6" stroke="#eeeeee" stroke-width="0.9"/><line x1="836.8" y1="241.7" x2="924.1" y2="284.8" stroke="#7a7a7a" stroke-width="1.1"/><line x1="836.1" y1="243.2" x2="923.4" y2="286.2" stroke="#eeeeee" stroke-width="0.9"/><line x1="835.0" y1="245.3" x2="922.3" y2="288.4" stroke="#7a7a7a" stroke-width="1.1"/><line x1="834.3" y1="246.7" x2="921.6" y2="289.8" stroke="#eeeeee" stroke-width="0.9"/><line x1="833.2" y1="248.9" x2="920.6" y2="292.0" stroke="#7a7a7a" stroke-width="1.1"/><line x1="832.5" y1="250.3" x2="919.9" y2="293.4" stroke="#eeeeee" stroke-width="0.9"/><line x1="831.5" y1="252.5" x2="918.8" y2="295.6" stroke="#7a7a7a" stroke-width="1.1"/><line x1="830.8" y1="253.9" x2="918.1" y2="297.0" stroke="#eeeeee" stroke-width="0.9"/></g>
<ellipse cx="925.0" cy="283.0" rx="8.8" ry="16.0" transform="rotate(26.3 925.0 283.0)" fill="#c8c8c8" stroke="#666" stroke-width="0.8" />
<polygon points="996.7,326.4 999.2,330.5 996.8,335.3 992.3,335.3 989.1,341.0 990.7,346.2 987.8,350.7 983.9,349.2 980.1,354.3 980.7,360.4 977.4,364.2 974.2,361.3 970.1,365.5 969.6,372.2 966.2,375.3 963.8,371.1 959.5,374.2 958.0,381.3 954.4,383.4 953.0,378.1 948.7,380.1 946.3,387.2 942.8,388.3 942.4,382.1 938.3,382.8 935.0,389.6 931.8,389.7 932.4,382.9 928.7,382.3 924.7,388.5 921.9,387.5 923.5,380.4 920.3,378.6 915.8,384.0 913.4,381.9 916.0,374.8 913.5,371.7 908.6,376.1 906.9,373.1 910.3,366.3 908.5,362.2 903.6,365.2 902.5,361.5 906.6,355.3 905.7,350.3 900.8,351.9 900.5,347.5 905.0,342.2 905.1,336.5 900.5,336.7 900.9,331.8 905.8,327.7 906.7,321.6 902.7,320.2 903.8,315.2 908.7,312.3 910.5,306.0 907.2,303.3 908.9,298.2 913.8,296.7 916.3,290.6 913.8,286.5 916.2,281.7 920.7,281.7 923.9,276.0 922.3,270.8 925.2,266.3 929.1,267.8 932.9,262.7 932.3,256.6 935.6,252.8 938.8,255.7 942.9,251.5 943.4,244.8 946.8,241.7 949.2,245.9 953.5,242.8 955.0,235.7 958.6,233.6 960.0,238.9 964.3,236.9 966.7,229.8 970.2,228.7 970.6,234.9 974.7,234.2 978.0,227.4 981.2,227.3 980.6,234.1 984.3,234.7 988.3,228.5 991.1,229.5 989.5,236.6 992.7,238.4 997.2,233.0 999.6,235.1 997.0,242.2 999.5,245.3 1004.4,240.9 1006.1,243.9 1002.7,250.7 1004.5,254.8 1009.4,251.8 1010.5,255.5 1006.4,261.7 1007.3,266.7 1012.2,265.1 1012.5,269.5 1008.0,274.8 1007.9,280.5 1012.5,280.3 1012.1,285.2 1007.2,289.3 1006.3,295.4 1010.3,296.8 1009.2,301.8 1004.3,304.7 1002.5,311.0 1005.8,313.7 1004.1,318.8 999.2,320.3" fill="#5a5a5a" stroke="#555" stroke-width="0.6"/>
<polygon points="900.5,347.5 900.5,336.7 900.9,331.8 902.7,320.2 903.8,315.2 907.2,303.3 909.0,298.2 913.8,286.5 916.2,281.7 922.3,270.8 925.2,266.3 932.3,256.6 935.6,252.8 943.4,244.8 946.9,241.7 955.0,235.7 958.5,233.6 966.7,229.8 970.2,228.7 978.0,227.4 981.2,227.3 988.3,228.5 1024.3,239.5 1027.1,240.5 1033.2,244.1 1035.6,246.1 1040.4,251.9 1042.1,254.9 1045.4,262.8 1046.5,266.5 1048.2,276.1 1048.5,280.5 1048.5,291.3 1048.1,296.2 1046.3,307.8 1045.2,312.8 1041.8,324.7 1040.0,329.8 1035.2,341.5 1032.8,346.3 1026.7,357.2 1023.8,361.7 1016.7,371.4 1013.4,375.2 1005.6,383.2 1002.1,386.3 994.0,392.3 990.5,394.4 982.3,398.2 978.8,399.3 971.0,400.6 967.8,400.7 960.7,399.5 924.7,388.5 921.9,387.5 915.8,383.9 913.4,381.9 908.6,376.1 906.9,373.1 903.6,365.2 902.5,361.5 900.9,351.9" fill="#8a8a8a" stroke="none"/>
<polygon points="1023.8,361.7 1019.9,360.2 983.9,349.2 987.8,350.7" fill="#5a5a5a" stroke="#555" stroke-width="0.35"/><polygon points="1013.4,375.2 1010.2,372.3 974.2,361.3 977.4,364.2" fill="#8a8a8a" stroke="#555" stroke-width="0.35"/><polygon points="1002.2,386.3 999.8,382.1 963.8,371.1 966.2,375.3" fill="#8a8a8a" stroke="#555" stroke-width="0.35"/><polygon points="990.4,394.4 989.0,389.1 953.0,378.1 954.4,383.4" fill="#d2d2d2" stroke="#555" stroke-width="0.35"/><polygon points="978.8,399.3 978.4,393.1 942.4,382.1 942.8,388.3" fill="#d2d2d2" stroke="#555" stroke-width="0.35"/><polygon points="967.8,400.7 968.4,393.9 932.4,382.9 931.8,389.7" fill="#d2d2d2" stroke="#555" stroke-width="0.35"/><polygon points="960.7,399.5 957.9,398.5 921.9,387.5 924.7,388.5" fill="#8a8a8a" stroke="#555" stroke-width="0.35"/><polygon points="957.9,398.5 959.5,391.4 923.5,380.4 921.9,387.5" fill="#d2d2d2" stroke="#555" stroke-width="0.35"/><polygon points="959.5,391.4 956.3,389.6 920.3,378.6 923.5,380.4" fill="#5a5a5a" stroke="#555" stroke-width="0.35"/><polygon points="951.8,395.0 949.4,392.9 913.4,381.9 915.8,384.0" fill="#d2d2d2" stroke="#555" stroke-width="0.35"/><polygon points="949.4,392.9 952.0,385.8 916.0,374.8 913.4,381.9" fill="#d2d2d2" stroke="#555" stroke-width="0.35"/><polygon points="952.0,385.8 949.5,382.7 913.5,371.7 916.0,374.8" fill="#5a5a5a" stroke="#555" stroke-width="0.35"/><polygon points="944.6,387.1 942.9,384.1 906.9,373.1 908.6,376.1" fill="#d2d2d2" stroke="#555" stroke-width="0.35"/><polygon points="942.9,384.1 946.3,377.3 910.3,366.3 906.9,373.1" fill="#d2d2d2" stroke="#555" stroke-width="0.35"/><polygon points="946.3,377.3 944.5,373.2 908.5,362.2 910.3,366.3" fill="#5a5a5a" stroke="#555" stroke-width="0.35"/><polygon points="939.6,376.2 938.5,372.5 902.5,361.5 903.6,365.2" fill="#d2d2d2" stroke="#555" stroke-width="0.35"/><polygon points="938.5,372.5 942.6,366.3 906.6,355.3 902.5,361.5" fill="#d2d2d2" stroke="#555" stroke-width="0.35"/><polygon points="942.6,366.3 941.7,361.3 905.7,350.3 906.6,355.3" fill="#5a5a5a" stroke="#555" stroke-width="0.35"/><polygon points="936.8,362.9 936.5,358.5 900.5,347.5 900.8,351.9" fill="#d2d2d2" stroke="#555" stroke-width="0.35"/><polygon points="936.5,358.5 941.0,353.2 905.0,342.2 900.5,347.5" fill="#d2d2d2" stroke="#555" stroke-width="0.35"/><polygon points="941.0,353.2 941.1,347.5 905.1,336.5 905.0,342.2" fill="#5a5a5a" stroke="#555" stroke-width="0.35"/><polygon points="936.5,347.7 936.9,342.8 900.9,331.8 900.5,336.7" fill="#d2d2d2" stroke="#555" stroke-width="0.35"/><polygon points="936.9,342.8 941.8,338.7 905.8,327.7 900.9,331.8" fill="#d2d2d2" stroke="#555" stroke-width="0.35"/><polygon points="941.8,338.7 942.7,332.6 906.7,321.6 905.8,327.7" fill="#5a5a5a" stroke="#555" stroke-width="0.35"/><polygon points="942.7,332.6 938.7,331.2 902.7,320.2 906.7,321.6" fill="#5a5a5a" stroke="#555" stroke-width="0.35"/><polygon points="938.7,331.2 939.8,326.2 903.8,315.2 902.7,320.2" fill="#d2d2d2" stroke="#555" stroke-width="0.35"/><polygon points="939.8,326.2 944.7,323.3 908.7,312.3 903.8,315.2" fill="#d2d2d2" stroke="#555" stroke-width="0.35"/><polygon points="944.7,323.3 946.5,317.0 910.5,306.0 908.7,312.3" fill="#5a5a5a" stroke="#555" stroke-width="0.35"/><polygon points="946.5,317.0 943.2,314.3 907.2,303.3 910.5,306.0" fill="#8a8a8a" stroke="#555" stroke-width="0.35"/><polygon points="943.2,314.3 944.9,309.2 908.9,298.2 907.2,303.3" fill="#d2d2d2" stroke="#555" stroke-width="0.35"/><polygon points="944.9,309.2 949.8,307.7 913.8,296.7 908.9,298.2" fill="#d2d2d2" stroke="#555" stroke-width="0.35"/><polygon points="949.8,307.7 952.3,301.6 916.3,290.6 913.8,296.7" fill="#5a5a5a" stroke="#555" stroke-width="0.35"/><polygon points="952.3,301.6 949.8,297.5 913.8,286.5 916.3,290.6" fill="#8a8a8a" stroke="#555" stroke-width="0.35"/><polygon points="949.8,297.5 952.2,292.7 916.2,281.7 913.8,286.5" fill="#d2d2d2" stroke="#555" stroke-width="0.35"/><polygon points="952.2,292.7 956.7,292.7 920.7,281.7 916.2,281.7" fill="#d2d2d2" stroke="#555" stroke-width="0.35"/><polygon points="956.7,292.7 959.9,287.0 923.9,276.0 920.7,281.7" fill="#5a5a5a" stroke="#555" stroke-width="0.35"/><polygon points="959.9,287.0 958.3,281.8 922.3,270.8 923.9,276.0" fill="#d2d2d2" stroke="#555" stroke-width="0.35"/><polygon points="958.3,281.8 961.2,277.3 925.2,266.3 922.3,270.8" fill="#d2d2d2" stroke="#555" stroke-width="0.35"/><polygon points="965.1,278.8 968.9,273.7 932.9,262.7 929.1,267.8" fill="#5a5a5a" stroke="#555" stroke-width="0.35"/><polygon points="968.9,273.7 968.3,267.6 932.3,256.6 932.9,262.7" fill="#d2d2d2" stroke="#555" stroke-width="0.35"/><polygon points="968.3,267.6 971.6,263.8 935.6,252.8 932.3,256.6" fill="#d2d2d2" stroke="#555" stroke-width="0.35"/><polygon points="974.8,266.7 978.9,262.5 942.9,251.5 938.8,255.7" fill="#5a5a5a" stroke="#555" stroke-width="0.35"/><polygon points="978.9,262.5 979.4,255.8 943.4,244.8 942.9,251.5" fill="#d2d2d2" stroke="#555" stroke-width="0.35"/><polygon points="979.4,255.8 982.8,252.7 946.8,241.7 943.4,244.8" fill="#d2d2d2" stroke="#555" stroke-width="0.35"/><polygon points="985.2,256.9 989.5,253.8 953.5,242.8 949.2,245.9" fill="#5a5a5a" stroke="#555" stroke-width="0.35"/><polygon points="989.5,253.8 991.0,246.7 955.0,235.7 953.5,242.8" fill="#d2d2d2" stroke="#555" stroke-width="0.35"/><polygon points="991.0,246.7 994.6,244.6 958.6,233.6 955.0,235.7" fill="#d2d2d2" stroke="#555" stroke-width="0.35"/><polygon points="996.0,249.9 1000.3,247.9 964.3,236.9 960.0,238.9" fill="#5a5a5a" stroke="#555" stroke-width="0.35"/><polygon points="1000.3,247.9 1002.7,240.8 966.7,229.8 964.3,236.9" fill="#d2d2d2" stroke="#555" stroke-width="0.35"/><polygon points="1002.7,240.8 1006.2,239.7 970.2,228.7 966.7,229.8" fill="#d2d2d2" stroke="#555" stroke-width="0.35"/><polygon points="1006.6,245.9 1010.7,245.2 974.7,234.2 970.6,234.9" fill="#5a5a5a" stroke="#555" stroke-width="0.35"/><polygon points="1010.7,245.2 1014.0,238.4 978.0,227.4 974.7,234.2" fill="#d2d2d2" stroke="#555" stroke-width="0.35"/><polygon points="1014.0,238.4 1017.2,238.3 981.2,227.3 978.0,227.4" fill="#d2d2d2" stroke="#555" stroke-width="0.35"/><polygon points="1016.6,245.1 1020.3,245.7 984.3,234.7 980.6,234.1" fill="#5a5a5a" stroke="#555" stroke-width="0.35"/><polygon points="1020.3,245.7 1024.3,239.5 988.3,228.5 984.3,234.7" fill="#d2d2d2" stroke="#555" stroke-width="0.35"/><polygon points="1028.7,249.4 1033.2,244.0 997.2,233.0 992.7,238.4" fill="#d2d2d2" stroke="#555" stroke-width="0.35"/><polygon points="1035.5,256.3 1040.4,251.9 1004.4,240.9 999.5,245.3" fill="#d2d2d2" stroke="#555" stroke-width="0.35"/><polygon points="1040.5,265.8 1045.4,262.8 1009.4,251.8 1004.5,254.8" fill="#d2d2d2" stroke="#555" stroke-width="0.35"/><polygon points="1043.3,277.7 1048.2,276.1 1012.2,265.1 1007.3,266.7" fill="#d2d2d2" stroke="#555" stroke-width="0.35"/><polygon points="1043.9,291.5 1048.5,291.3 1012.5,280.3 1007.9,280.5" fill="#d2d2d2" stroke="#555" stroke-width="0.35"/>
<polygon points="1032.7,337.4 1035.2,341.5 1032.8,346.3 1028.3,346.3 1025.1,352.0 1026.7,357.2 1023.8,361.7 1019.9,360.2 1016.1,365.3 1016.7,371.4 1013.4,375.2 1010.2,372.3 1006.1,376.5 1005.6,383.2 1002.2,386.3 999.8,382.1 995.5,385.2 994.0,392.3 990.4,394.4 989.0,389.1 984.7,391.1 982.3,398.2 978.8,399.3 978.4,393.1 974.3,393.8 971.0,400.6 967.8,400.7 968.4,393.9 964.7,393.3 960.7,399.5 957.9,398.5 959.5,391.4 956.3,389.6 951.8,395.0 949.4,392.9 952.0,385.8 949.5,382.7 944.6,387.1 942.9,384.1 946.3,377.3 944.5,373.2 939.6,376.2 938.5,372.5 942.6,366.3 941.7,361.3 936.8,362.9 936.5,358.5 941.0,353.2 941.1,347.5 936.5,347.7 936.9,342.8 941.8,338.7 942.7,332.6 938.7,331.2 939.8,326.2 944.7,323.3 946.5,317.0 943.2,314.3 944.9,309.2 949.8,307.7 952.3,301.6 949.8,297.5 952.2,292.7 956.7,292.7 959.9,287.0 958.3,281.8 961.2,277.3 965.1,278.8 968.9,273.7 968.3,267.6 971.6,263.8 974.8,266.7 978.9,262.5 979.4,255.8 982.8,252.7 985.2,256.9 989.5,253.8 991.0,246.7 994.6,244.6 996.0,249.9 1000.3,247.9 1002.7,240.8 1006.2,239.7 1006.6,245.9 1010.7,245.2 1014.0,238.4 1017.2,238.3 1016.6,245.1 1020.3,245.7 1024.3,239.5 1027.1,240.5 1025.5,247.6 1028.7,249.4 1033.2,244.0 1035.6,246.1 1033.0,253.2 1035.5,256.3 1040.4,251.9 1042.1,254.9 1038.7,261.7 1040.5,265.8 1045.4,262.8 1046.5,266.5 1042.4,272.7 1043.3,277.7 1048.2,276.1 1048.5,280.5 1044.0,285.8 1043.9,291.5 1048.5,291.3 1048.1,296.2 1043.2,300.3 1042.3,306.4 1046.3,307.8 1045.2,312.8 1040.3,315.7 1038.5,322.0 1041.8,324.7 1040.1,329.8 1035.2,331.3" fill="#a4a4a4" stroke="#555" stroke-width="0.6"/>
<polygon points="935.8,340.1 936.1,334.0 936.9,327.8 938.2,321.7 939.9,315.7 942.0,309.8 944.6,304.1 947.5,298.5 950.9,293.3 954.5,288.3 958.5,283.6 962.8,279.4 967.4,275.5 972.2,272.1 977.1,269.1 982.2,266.6 987.4,264.5 992.7,263.0 998.0,262.1 1003.4,261.6 1008.6,261.7 1013.8,262.3 1018.8,263.5 1023.7,265.1 1035.0,269.2 1039.6,271.4 1044.1,274.1 1048.2,277.2 1052.0,280.8 1055.6,284.8 1058.7,289.2 1061.5,294.0 1063.8,299.1 1065.8,304.4 1067.2,310.0 1068.3,315.8 1068.9,321.8 1069.0,327.8 1068.6,333.9 1067.8,340.1 1066.6,346.2 1064.8,352.2 1062.7,358.1 1060.1,363.8 1057.2,369.4 1053.9,374.6 1050.2,379.6 1046.2,384.2 1041.9,388.5 1037.3,392.4 1032.6,395.8 1027.6,398.8 1022.5,401.4 1017.3,403.4 1012.0,404.9 1006.7,405.8 1001.4,406.3 996.1,406.2 990.9,405.6 985.9,404.4 981.0,402.8 969.8,398.6 965.1,396.5 960.7,393.8 956.5,390.7 952.7,387.1 949.2,383.1 946.0,378.7 943.2,373.9 940.9,368.8 939.0,363.5 937.5,357.9 936.4,352.1 935.9,346.1" fill="#8a8a8a" stroke="#6a6a6a" stroke-width="0.8"/>
<ellipse cx="1008.0" cy="336.0" rx="59.0" ry="72.0" transform="rotate(22.0 1008.0 336.0)" fill="url(#g58)" stroke="#6a6a6a" stroke-width="0.8" />
<ellipse cx="1008.0" cy="336.0" rx="51.0" ry="64.0" transform="rotate(22.0 1008.0 336.0)" fill="none" stroke="#777" stroke-width="1" />
<ellipse cx="1014.5" cy="269.7" rx="5.0" ry="6.0" transform="rotate(22.0 1014.5 269.7)" fill="#b8b8b8" stroke="#666" stroke-width="0.6" />
<ellipse cx="951.4" cy="338.2" rx="5.0" ry="6.0" transform="rotate(22.0 951.4 338.2)" fill="#b8b8b8" stroke="#666" stroke-width="0.6" />
<ellipse cx="1063.4" cy="311.3" rx="5.0" ry="6.0" transform="rotate(22.0 1063.4 311.3)" fill="#b8b8b8" stroke="#666" stroke-width="0.6" />
<ellipse cx="1030.0" cy="352.0" rx="38.0" ry="52.0" transform="rotate(22.0 1030.0 352.0)" fill="#e0e0e0" stroke="#666" stroke-width="0.8" />
<polygon points="1065.2,366.2 1058.3,379.2 1053.1,367.1" fill="#f0f0f0" stroke="#777" stroke-width="0.4"/><polygon points="1058.3,379.2 1049.1,390.0 1047.2,375.7" fill="#5a5a5a" stroke="#777" stroke-width="0.4"/><polygon points="1049.1,390.0 1038.4,397.8 1040.0,382.5" fill="#f0f0f0" stroke="#777" stroke-width="0.4"/><polygon points="1038.4,397.8 1026.9,401.8 1031.9,386.7" fill="#5a5a5a" stroke="#777" stroke-width="0.4"/><polygon points="1026.9,401.8 1015.7,401.7 1023.7,388.2" fill="#f0f0f0" stroke="#777" stroke-width="0.4"/><polygon points="1015.7,401.7 1005.7,397.7 1016.0,386.7" fill="#5a5a5a" stroke="#777" stroke-width="0.4"/><polygon points="1005.7,397.7 997.6,389.9 1009.4,382.4" fill="#f0f0f0" stroke="#777" stroke-width="0.4"/><polygon points="997.6,389.9 992.2,379.1 1004.5,375.7" fill="#5a5a5a" stroke="#777" stroke-width="0.4"/><polygon points="992.2,379.1 989.8,366.1 1001.6,367.0" fill="#f0f0f0" stroke="#777" stroke-width="0.4"/><polygon points="989.8,366.1 990.7,351.9 1001.1,357.1" fill="#5a5a5a" stroke="#777" stroke-width="0.4"/><polygon points="990.7,351.9 994.8,337.8 1002.9,346.8" fill="#f0f0f0" stroke="#777" stroke-width="0.4"/><polygon points="994.8,337.8 1001.7,324.8 1006.9,336.9" fill="#5a5a5a" stroke="#777" stroke-width="0.4"/><polygon points="1001.7,324.8 1010.9,314.0 1012.8,328.3" fill="#f0f0f0" stroke="#777" stroke-width="0.4"/><polygon points="1010.9,314.0 1021.6,306.2 1020.0,321.5" fill="#5a5a5a" stroke="#777" stroke-width="0.4"/><polygon points="1021.6,306.2 1033.1,302.2 1028.1,317.3" fill="#f0f0f0" stroke="#777" stroke-width="0.4"/><polygon points="1033.1,302.2 1044.3,302.3 1036.3,315.8" fill="#5a5a5a" stroke="#777" stroke-width="0.4"/><polygon points="1044.3,302.3 1054.3,306.3 1044.0,317.3" fill="#f0f0f0" stroke="#777" stroke-width="0.4"/><polygon points="1054.3,306.3 1062.4,314.1 1050.6,321.6" fill="#5a5a5a" stroke="#777" stroke-width="0.4"/><polygon points="1062.4,314.1 1067.8,324.9 1055.5,328.3" fill="#f0f0f0" stroke="#777" stroke-width="0.4"/><polygon points="1067.8,324.9 1070.2,337.9 1058.4,337.0" fill="#5a5a5a" stroke="#777" stroke-width="0.4"/><polygon points="1070.2,337.9 1069.3,352.1 1058.9,346.9" fill="#f0f0f0" stroke="#777" stroke-width="0.4"/><polygon points="1069.3,352.1 1065.2,366.2 1057.1,357.2" fill="#5a5a5a" stroke="#777" stroke-width="0.4"/>
<polygon points="1003.0,366.0 1003.0,362.1 1003.3,358.1 1003.9,354.1 1004.8,350.2 1005.9,346.3 1007.4,342.4 1009.0,338.7 1010.9,335.1 1013.0,331.6 1015.4,328.3 1017.9,325.3 1020.6,322.4 1023.5,319.9 1026.5,317.6 1029.6,315.6 1032.8,313.8 1036.0,312.5 1039.3,311.4 1042.6,310.7 1045.8,310.3 1049.1,310.3 1052.3,310.6 1055.3,311.3 1058.3,312.3 1069.6,316.4 1072.5,317.8 1075.1,319.4 1077.7,321.4 1080.0,323.7 1082.1,326.2 1083.9,329.0 1085.6,332.0 1086.9,335.3 1088.0,338.7 1088.9,342.3 1089.4,346.1 1089.7,349.9 1089.7,353.8 1089.4,357.8 1088.8,361.8 1087.9,365.7 1086.8,369.6 1085.4,373.5 1083.7,377.2 1081.8,380.9 1079.7,384.3 1077.3,387.6 1074.8,390.6 1072.1,393.5 1069.2,396.0 1066.2,398.3 1063.2,400.4 1060.0,402.1 1056.7,403.4 1053.4,404.5 1050.2,405.2 1046.9,405.6 1043.6,405.6 1040.5,405.3 1037.4,404.6 1034.4,403.6 1023.1,399.5 1020.3,398.1 1017.6,396.5 1015.1,394.5 1012.8,392.2 1010.7,389.7 1008.8,386.9 1007.2,383.9 1005.8,380.6 1004.7,377.2 1003.8,373.6 1003.3,369.8" fill="#a0a0a0" stroke="#6a6a6a" stroke-width="0.8"/>
<ellipse cx="1052.0" cy="360.0" rx="36.0" ry="47.0" transform="rotate(22.0 1052.0 360.0)" fill="url(#g59)" stroke="#6a6a6a" stroke-width="0.8" />
<ellipse cx="1052.0" cy="360.0" rx="29.0" ry="39.0" transform="rotate(22.0 1052.0 360.0)" fill="none" stroke="#777" stroke-width="2.2" stroke-dasharray="2 2.5"/>
<ellipse cx="1052.0" cy="360.0" rx="24.0" ry="33.0" transform="rotate(22.0 1052.0 360.0)" fill="#c8c8c8" stroke="#777" stroke-width="0.8" />
<polygon points="1028.6,357.3 1028.6,355.8 1028.7,354.2 1029.0,352.6 1029.3,350.9 1029.8,349.2 1030.4,347.5 1031.1,345.7 1031.8,344.0 1032.7,342.3 1033.7,340.7 1034.7,339.1 1035.8,337.5 1037.0,336.0 1038.2,334.6 1039.5,333.3 1040.8,332.1 1042.2,331.1 1043.5,330.1 1044.8,329.3 1046.2,328.6 1047.5,328.0 1048.8,327.6 1050.1,327.3 1051.3,327.2 1052.5,327.2 1053.5,327.4 1054.6,327.8 1055.5,328.2 1099.5,355.2 1100.4,355.9 1101.1,356.6 1101.8,357.5 1102.3,358.5 1102.8,359.7 1103.1,360.9 1103.3,362.3 1103.4,363.7 1103.4,365.2 1103.3,366.8 1103.0,368.4 1102.7,370.1 1102.2,371.8 1101.6,373.5 1100.9,375.3 1100.2,377.0 1099.3,378.7 1098.3,380.3 1097.3,381.9 1096.2,383.5 1095.0,385.0 1093.8,386.4 1092.5,387.7 1091.2,388.9 1089.8,389.9 1088.5,390.9 1087.2,391.7 1085.8,392.4 1084.5,393.0 1083.2,393.4 1081.9,393.7 1080.7,393.8 1079.5,393.8 1078.5,393.6 1077.4,393.2 1076.5,392.8 1032.5,365.8 1031.6,365.1 1030.9,364.4 1030.2,363.5 1029.7,362.5 1029.2,361.3 1028.9,360.1 1028.7,358.7" fill="url(#g60)" stroke="#666" stroke-width="0.8"/>
<ellipse cx="1088.0" cy="374.0" rx="12.1" ry="22.0" transform="rotate(31.5 1088.0 374.0)" fill="#d0d0d0" stroke="#666" stroke-width="0.8" />
<polygon points="1070,369 1102,356 1103,384 1073,396" fill="#a8a8a8" stroke="#555" stroke-width="0.8"/>
<circle cx="1086" cy="379" r="4.5" fill="#d0d0d0" stroke="#555" stroke-width="0.6"/>
<text x="76.4" y="35.4" font-size="21.8" style="font-family:'Liberation Sans',serif" fill="#383838">26</text>
<text x="124.4" y="49.2" font-size="21.8" style="font-family:'Liberation Sans',serif" fill="#383838">48</text>
<text x="188.6" y="67.2" font-size="21.8" style="font-family:'Liberation Sans',serif" fill="#383838">25</text>
<text x="267.2" y="106.4" font-size="21.8" style="font-family:'Liberation Sans',serif" fill="#383838">24</text>
<text x="328.0" y="135.4" font-size="21.8" style="font-family:'Liberation Sans',serif" fill="#383838">48</text>
<text x="451.0" y="88.6" font-size="21.8" style="font-family:'Liberation Sans',serif" fill="#383838">45</text>
<text x="528.0" y="125.6" font-size="21.8" style="font-family:'Liberation Sans',serif" fill="#383838">23</text>
<text x="221.4" y="414.6" font-size="21.8" style="font-family:'Liberation Sans',serif" fill="#383838">54</text>
<text x="590.0" y="274.6" font-size="21.8" style="font-family:'Liberation Sans',serif" fill="#383838">18</text>
<text x="695.0" y="300.4" font-size="21.8" style="font-family:'Liberation Sans',serif" fill="#383838">22</text>
<text x="814.0" y="439.4" font-size="21.8" style="font-family:'Liberation Sans',serif" fill="#383838">49</text>
<text x="887.6" y="483.4" font-size="21.8" style="font-family:'Liberation Sans',serif" fill="#383838">34</text>
<text x="939.0" y="507.2" font-size="21.8" style="font-family:'Liberation Sans',serif" fill="#383838">50</text>
<text x="992.8" y="534.0" font-size="21.8" style="font-family:'Liberation Sans',serif" fill="#383838">20</text>
<text x="1043.0" y="557.4" font-size="21.8" style="font-family:'Liberation Sans',serif" fill="#383838">19</text>
<text x="1118.8" y="566.6" font-size="21.8" style="font-family:'Liberation Sans',serif" fill="#383838">55</text>
<text x="105.4" y="649.8" font-size="21.8" style="font-family:'Liberation Sans',serif" fill="#383838">16</text>
<text x="455.4" y="684.0" font-size="21.8" style="font-family:'Liberation Sans',serif" fill="#383838">21</text>
<text x="552.6" y="690.0" font-size="21.8" style="font-family:'Liberation Sans',serif" fill="#383838">1</text>
<text x="733.4" y="725.6" font-size="21.8" style="font-family:'Liberation Sans',serif" fill="#383838">46</text>
<text x="1271.0" y="704.6" font-size="21.8" style="font-family:'Liberation Serif',serif" fill="#383838">41</text>
<text x="1094.0" y="837.4" font-size="21.8" style="font-family:'Liberation Serif',serif" fill="#383838">44</text>
<text x="78.6" y="280.2" font-size="21.8" style="font-family:'Liberation Sans',serif" fill="#383838">3</text>
<text x="99.8" y="280.2" font-size="21.8" style="font-family:'Liberation Sans',serif" fill="#383838">9</text>
<text x="359.2" y="464.2" font-size="21.8" style="font-family:'Liberation Sans',serif" fill="#383838">28</text>
<text x="637.4" y="678.6" font-size="21.8" style="font-family:'Liberation Sans',serif" fill="#383838">35</text>
<text x="78.6" y="303.2" font-size="21.8" style="font-family:'Liberation Sans',serif" fill="#383838">4</text>
<text x="78.6" y="327.3" font-size="21.8" style="font-family:'Liberation Sans',serif" fill="#383838">5</text>
<text x="78.6" y="350.3" font-size="21.8" style="font-family:'Liberation Sans',serif" fill="#383838">6</text>
<text x="78.6" y="374.4" font-size="21.8" style="font-family:'Liberation Sans',serif" fill="#383838">7</text>
<text x="78.6" y="397.4" font-size="21.8" style="font-family:'Liberation Sans',serif" fill="#383838">8</text>
<text x="78.6" y="421.4" font-size="21.8" style="font-family:'Liberation Sans',serif" fill="#383838">9</text>
<text x="98.8" y="303.2" font-size="21.8" style="font-family:'Liberation Sans',serif" fill="#383838">10</text>
<text x="98.8" y="327.3" font-size="21.8" style="font-family:'Liberation Sans',serif" fill="#383838">11</text>
<text x="98.8" y="350.3" font-size="21.8" style="font-family:'Liberation Sans',serif" fill="#383838">12</text>
<text x="98.8" y="374.4" font-size="21.8" style="font-family:'Liberation Sans',serif" fill="#383838">13</text>
<text x="98.8" y="397.4" font-size="21.8" style="font-family:'Liberation Sans',serif" fill="#383838">14</text>
<text x="98.8" y="421.4" font-size="21.8" style="font-family:'Liberation Sans',serif" fill="#383838">15</text>
<text x="359.2" y="488.4" font-size="21.8" style="font-family:'Liberation Sans',serif" fill="#383838">29</text>
<text x="360.2" y="511.6" font-size="21.8" style="font-family:'Liberation Sans',serif" fill="#383838">30</text>
<text x="360.2" y="535.8" font-size="21.8" style="font-family:'Liberation Sans',serif" fill="#383838">31</text>
<text x="360.2" y="559.0" font-size="21.8" style="font-family:'Liberation Sans',serif" fill="#383838">32</text>
<text x="360.2" y="582.2" font-size="21.8" style="font-family:'Liberation Sans',serif" fill="#383838">33</text>
<text x="637.4" y="702.9" font-size="21.8" style="font-family:'Liberation Sans',serif" fill="#383838">36</text>
<text x="637.4" y="726.2" font-size="21.8" style="font-family:'Liberation Sans',serif" fill="#383838">37</text>
<text x="637.4" y="749.4" font-size="21.8" style="font-family:'Liberation Sans',serif" fill="#383838">38</text>
<text x="637.4" y="773.7" font-size="21.8" style="font-family:'Liberation Sans',serif" fill="#383838">39</text>
<text x="638.4" y="797.0" font-size="21.8" style="font-family:'Liberation Sans',serif" fill="#383838">40</text>
<text x="1118.8" y="590.6" font-size="21.8" style="font-family:'Liberation Sans',serif" fill="#383838">56</text>
<g fill="none" stroke="#111" stroke-width="1" font-weight="bold"><text x="0" y="0" font-size="178" transform="translate(360.7,663.4) rotate(-31.8)">A</text><text x="0" y="0" font-size="170" letter-spacing="2" transform="translate(472.1,594.4) rotate(-32)">utoSoft</text></g>
</svg></body></html>
